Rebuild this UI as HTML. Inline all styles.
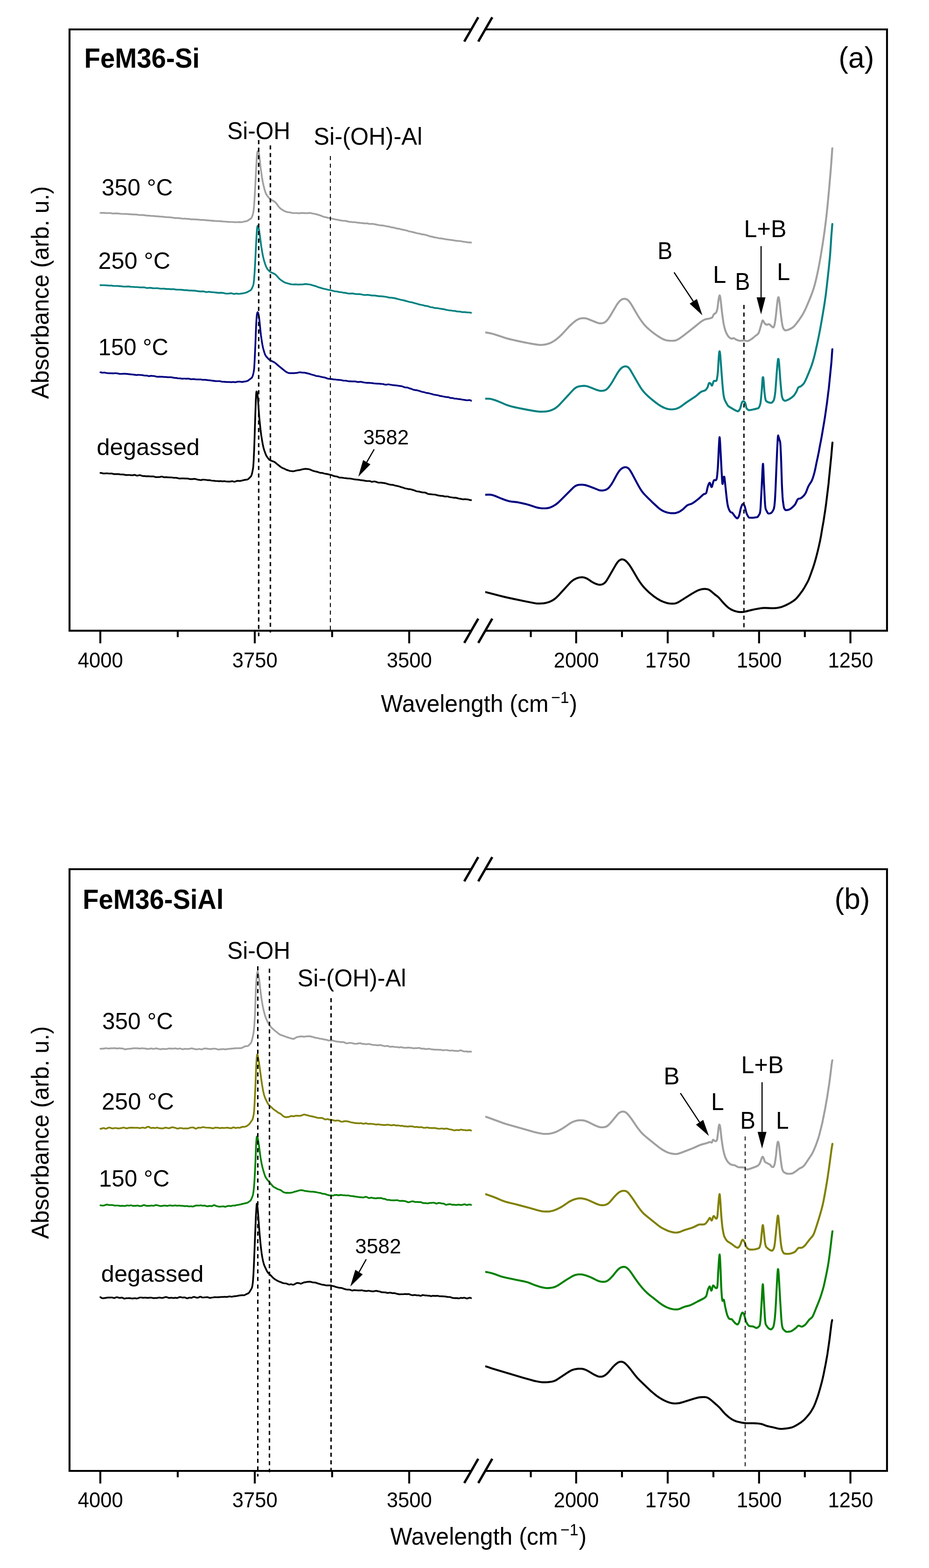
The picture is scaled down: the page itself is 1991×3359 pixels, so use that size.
<!DOCTYPE html>
<html lang="en"><head><meta charset="utf-8"><title>FTIR spectra of FeM36-Si and FeM36-SiAl</title>
<style>html,body{margin:0;padding:0;background:#fff}body{width:1991px;height:3359px;overflow:hidden}svg{display:block}text{font-family:"Liberation Sans", sans-serif;fill:#000}</style>
</head><body>
<svg width="1991" height="3359" viewBox="0 0 1991 3359">
<rect width="1991" height="3359" fill="#fff"/>
<defs><clipPath id="clipL"><rect x="150" y="0" width="861" height="3359"/></clipPath><clipPath id="clipR"><rect x="1040" y="0" width="860" height="3359"/></clipPath></defs>
<g id="panel-a">
<g clip-path="url(#clipL)">
<path d="M215.2,456.0 L218.2,456.2 L223.2,456.2 L227.2,456.3 L231.2,456.5 L235.2,456.3 L236.2,456.4 L239.2,457.0 L242.2,457.3 L244.2,457.4 L248.2,457.1 L250.2,457.1 L252.2,457.3 L259.2,458.0 L272.2,458.4 L283.2,459.4 L287.2,459.4 L292.2,459.7 L298.2,460.5 L300.2,460.7 L306.2,460.7 L308.2,460.9 L313.2,461.7 L317.2,461.8 L323.2,462.4 L331.2,462.9 L335.2,463.3 L338.2,463.4 L342.2,463.8 L347.2,464.1 L353.2,464.9 L357.2,465.2 L362.2,465.4 L368.2,466.0 L375.2,467.1 L376.2,467.2 L380.2,467.2 L384.2,467.4 L386.2,467.6 L390.2,468.3 L392.2,468.5 L393.2,468.5 L397.2,468.4 L401.2,468.8 L404.2,468.9 L408.2,469.6 L410.2,469.9 L414.2,469.9 L419.2,470.2 L424.2,470.4 L426.2,470.6 L430.2,471.1 L436.2,471.2 L440.2,471.6 L449.2,472.3 L461.2,473.3 L468.2,473.7 L473.2,473.8 L477.2,474.3 L480.2,474.5 L484.2,475.0 L487.2,475.1 L491.2,475.4 L494.2,475.5 L498.2,475.5 L502.2,475.9 L504.2,476.0 L508.2,476.0 L512.2,475.7 L515.2,475.9 L517.2,475.9 L518.7,475.8 L520.2,475.5 L524.2,474.5 L527.7,473.9 L529.2,473.4 L530.2,473.0 L531.7,472.1 L535.7,469.4 L537.7,468.1 L538.2,467.7 L538.7,467.1 L539.2,466.3 L540.2,464.2 L541.2,461.4 L542.2,457.9 L543.2,453.3 L543.7,449.5 L544.2,444.4 L544.7,438.3 L545.7,423.5 L546.7,406.3 L549.2,356.0 L550.2,339.5 L550.7,333.0 L551.2,328.3 L551.7,325.4 L552.2,324.0 L552.7,323.6 L553.2,324.2 L553.7,325.0 L554.2,326.1 L554.7,327.7 L555.2,329.9 L555.7,332.9 L556.7,341.4 L558.7,360.9 L561.2,378.2 L563.2,389.9 L564.7,396.9 L566.7,404.8 L567.7,408.4 L568.7,411.5 L570.2,415.3 L571.2,417.1 L574.2,421.3 L576.2,423.7 L578.2,425.8 L579.2,426.6 L580.2,427.3 L585.7,430.3 L587.7,431.5 L589.2,432.7 L590.7,434.1 L591.7,435.2 L593.2,437.1 L597.2,442.7 L598.2,443.9 L599.2,445.0 L602.2,447.5 L605.7,449.9 L608.2,451.4 L610.7,452.6 L613.2,453.5 L616.2,454.4 L617.2,454.5 L621.2,455.0 L625.7,456.0 L627.7,456.3 L636.2,456.5 L641.2,456.8 L643.2,456.7 L648.2,456.2 L650.2,456.3 L653.2,456.7 L659.2,456.6 L663.2,456.1 L664.2,456.2 L665.2,456.3 L669.2,457.3 L675.2,458.3 L681.2,459.9 L683.2,460.5 L689.2,462.6 L693.2,464.2 L695.2,464.8 L699.2,465.6 L703.7,466.8 L713.2,468.7 L717.2,469.7 L723.2,470.7 L727.2,471.6 L733.2,472.7 L735.2,473.0 L738.2,473.0 L740.2,473.1 L747.2,474.9 L749.2,475.2 L752.2,475.4 L756.2,475.8 L761.2,476.0 L762.2,476.2 L766.2,477.0 L769.2,477.2 L773.2,477.7 L778.2,478.1 L781.2,478.6 L782.2,478.6 L785.2,478.4 L786.2,478.4 L787.2,478.6 L790.2,479.3 L792.2,479.6 L794.2,479.6 L797.2,479.6 L799.2,479.7 L803.2,480.4 L813.2,482.5 L814.2,482.6 L818.2,482.8 L822.2,483.3 L824.2,483.7 L827.2,484.5 L829.2,484.9 L833.2,485.4 L834.2,485.6 L837.2,486.6 L838.2,486.8 L842.2,487.4 L844.2,487.7 L851.2,489.6 L856.2,490.2 L860.2,491.4 L871.2,493.7 L873.2,494.3 L876.2,495.4 L877.2,495.7 L880.2,496.2 L882.2,496.6 L885.2,497.4 L890.2,498.6 L894.2,499.7 L899.2,500.6 L903.2,501.8 L908.2,502.4 L912.2,503.2 L917.2,504.8 L921.2,506.2 L922.2,506.4 L926.2,507.1 L930.7,508.4 L932.2,508.7 L935.2,509.0 L940.2,510.3 L944.2,510.7 L949.2,511.4 L951.2,511.7 L955.2,512.6 L959.2,513.0 L963.2,513.7 L967.2,514.1 L972.2,514.8 L976.2,515.6 L981.2,516.1 L985.2,516.3 L987.2,516.5 L992.2,517.7 L995.2,518.0 L1002.2,519.1 L1004.2,519.3 L1006.2,519.4 L1010.8,519.6" fill="none" stroke="#a0a0a0" stroke-width="3.7" stroke-linejoin="round" stroke-linecap="round"/>
<path d="M215.2,610.8 L217.2,610.9 L223.2,611.0 L228.2,611.3 L233.2,611.7 L235.2,611.8 L238.2,611.6 L239.2,611.7 L242.2,612.4 L243.2,612.5 L247.2,612.5 L253.2,612.7 L261.2,613.4 L265.2,614.0 L266.2,614.0 L269.2,613.8 L276.2,613.6 L280.2,614.4 L281.2,614.5 L284.2,614.5 L288.2,614.9 L294.2,615.0 L298.2,615.5 L300.2,615.6 L308.2,615.5 L310.2,615.8 L313.2,616.7 L314.2,616.9 L315.2,617.0 L316.2,617.0 L320.2,616.7 L322.2,616.7 L323.2,616.7 L327.2,617.3 L328.2,617.4 L333.2,617.5 L337.2,617.4 L338.2,617.5 L342.2,618.2 L345.2,618.5 L347.2,618.5 L349.2,618.4 L351.2,618.4 L353.2,618.6 L357.2,619.1 L358.2,619.1 L362.2,619.1 L367.2,619.7 L371.2,619.4 L372.2,619.5 L373.2,619.6 L376.2,620.2 L378.2,620.4 L387.2,620.7 L392.2,621.1 L395.2,621.6 L396.2,621.6 L399.2,621.6 L400.2,621.7 L405.2,622.3 L409.2,622.3 L413.2,622.6 L416.2,622.6 L417.2,622.6 L421.2,623.4 L429.2,624.3 L433.2,624.2 L436.2,624.4 L438.2,624.7 L441.2,625.6 L442.2,625.7 L443.2,625.7 L446.2,625.2 L448.2,625.1 L449.2,625.2 L452.2,625.8 L453.2,626.0 L456.2,626.0 L457.2,626.0 L460.2,626.5 L463.2,626.7 L467.2,627.3 L471.2,627.2 L477.2,627.4 L479.2,627.7 L483.2,628.8 L485.2,629.0 L489.2,629.0 L491.2,628.7 L494.2,628.3 L495.2,628.2 L496.2,628.3 L497.2,628.5 L500.2,629.4 L501.2,629.6 L502.2,629.6 L503.2,629.5 L506.2,628.9 L507.2,628.9 L510.2,629.4 L512.2,629.5 L514.2,629.3 L517.2,628.8 L521.2,628.3 L525.7,627.3 L528.2,626.5 L530.2,625.7 L534.2,623.4 L536.2,622.4 L537.2,621.7 L537.7,621.2 L538.2,620.6 L539.2,619.1 L540.7,616.1 L542.2,612.4 L542.7,611.0 L543.2,609.2 L543.7,606.1 L544.2,601.8 L544.7,596.3 L545.7,582.6 L546.7,566.0 L549.2,515.6 L550.2,499.1 L550.7,492.5 L551.2,487.8 L551.7,484.9 L552.2,483.8 L552.7,483.8 L553.2,484.8 L554.2,487.9 L555.2,492.3 L555.7,495.2 L556.7,502.4 L559.2,522.6 L560.2,529.7 L562.2,541.4 L563.7,549.1 L565.2,555.6 L566.7,560.9 L568.7,567.0 L569.7,569.7 L570.7,572.0 L572.2,574.8 L573.7,576.9 L575.7,579.3 L577.7,581.3 L578.7,582.0 L580.7,583.2 L582.2,584.0 L587.2,586.2 L589.2,587.3 L590.2,588.1 L591.7,589.5 L593.2,591.1 L597.2,595.6 L598.7,597.2 L600.2,598.5 L602.7,600.4 L607.7,603.7 L609.2,604.6 L611.2,605.5 L613.7,606.3 L618.2,607.5 L622.2,608.6 L624.2,609.0 L628.2,609.4 L630.2,609.4 L634.2,609.2 L638.2,609.6 L639.2,609.6 L643.2,609.3 L646.2,609.3 L650.2,609.1 L653.2,608.6 L655.2,608.4 L657.2,608.7 L660.2,609.2 L664.2,609.5 L665.2,609.7 L666.2,609.9 L670.2,611.2 L676.2,612.9 L678.2,613.6 L682.2,615.2 L688.2,616.9 L693.2,618.5 L697.2,619.2 L703.2,620.7 L709.2,621.8 L714.2,623.3 L716.2,623.8 L722.2,624.5 L727.2,625.6 L731.2,626.0 L735.2,626.8 L740.2,627.4 L745.2,628.5 L747.2,628.8 L749.2,628.8 L755.2,628.7 L757.2,628.9 L761.2,629.8 L762.2,629.9 L771.2,630.1 L772.2,630.2 L778.2,631.5 L781.2,631.9 L783.2,632.0 L787.2,631.6 L789.2,631.7 L793.2,632.4 L798.2,633.1 L799.2,633.2 L802.2,633.1 L803.2,633.2 L813.2,634.7 L817.2,634.7 L823.2,635.3 L826.2,635.8 L829.2,636.3 L834.2,637.6 L835.2,637.7 L838.2,637.7 L839.2,637.8 L845.2,638.6 L847.2,639.1 L853.2,640.8 L859.2,642.2 L865.2,643.4 L877.2,646.7 L882.2,647.6 L883.2,647.8 L887.2,649.1 L892.2,650.3 L896.2,651.6 L899.2,652.4 L901.2,652.8 L906.2,653.7 L911.2,655.1 L915.2,655.6 L916.2,655.8 L922.2,657.8 L923.2,658.0 L926.2,658.4 L928.2,658.7 L932.2,659.9 L933.2,660.0 L937.2,660.2 L939.2,660.5 L947.2,661.8 L951.2,662.4 L953.2,662.9 L956.2,663.7 L962.2,664.8 L967.2,665.2 L970.2,665.8 L971.2,666.0 L974.2,666.0 L975.2,666.1 L978.2,666.9 L980.2,667.3 L982.2,667.4 L985.2,667.5 L986.2,667.6 L990.2,668.5 L991.2,668.6 L995.2,668.5 L1000.2,669.1 L1006.2,669.5 L1008.2,669.7 L1010.8,670.3" fill="none" stroke="#008080" stroke-width="3.7" stroke-linejoin="round" stroke-linecap="round"/>
<path d="M215.2,797.5 L216.2,797.6 L219.2,798.4 L220.2,798.5 L223.2,798.2 L224.2,798.2 L228.2,799.0 L231.2,799.3 L236.2,799.6 L239.2,799.6 L243.2,799.8 L246.2,799.5 L248.2,799.5 L253.2,800.2 L256.2,800.9 L257.2,801.0 L258.2,801.0 L266.2,800.7 L267.2,800.7 L273.2,801.1 L279.2,801.8 L282.2,802.2 L287.2,802.6 L289.2,802.9 L291.2,803.3 L292.2,803.4 L293.2,803.4 L296.2,803.0 L297.2,803.0 L304.2,803.5 L305.2,803.6 L308.2,804.3 L314.2,804.6 L316.2,805.0 L318.2,805.6 L319.2,805.8 L320.2,805.7 L323.2,805.1 L324.2,805.0 L325.2,805.1 L327.2,805.3 L330.2,805.5 L331.2,805.7 L334.2,806.6 L337.2,807.1 L339.2,807.1 L342.2,806.9 L345.2,807.1 L348.2,807.2 L352.2,807.7 L355.2,807.5 L356.2,807.6 L359.2,808.1 L360.2,808.2 L363.2,808.0 L365.2,808.1 L368.2,808.4 L373.2,809.4 L377.2,809.6 L378.2,809.7 L381.2,810.4 L383.2,810.5 L386.2,810.6 L390.2,811.3 L391.2,811.3 L394.2,811.0 L395.2,811.0 L399.2,811.4 L403.2,811.1 L404.2,811.2 L405.2,811.3 L408.2,812.2 L409.2,812.4 L410.2,812.4 L411.2,812.4 L414.2,812.0 L415.2,812.1 L419.2,812.7 L425.2,812.8 L429.2,812.8 L430.2,812.8 L433.2,813.5 L434.2,813.6 L440.2,813.7 L442.2,813.9 L445.2,814.3 L449.2,814.7 L452.2,815.1 L454.2,815.3 L458.2,815.9 L461.2,816.3 L463.2,816.4 L470.2,816.5 L471.2,816.6 L472.2,816.8 L475.2,817.6 L476.2,817.7 L480.2,817.9 L486.2,818.4 L488.2,818.4 L491.2,818.3 L495.2,818.6 L496.2,818.6 L499.2,818.3 L500.2,818.3 L503.2,818.7 L504.2,818.8 L505.2,818.7 L508.2,817.9 L509.2,817.7 L511.2,817.6 L514.2,817.7 L517.7,818.2 L519.2,818.2 L520.2,818.1 L523.2,817.4 L526.2,817.1 L527.2,816.9 L530.2,816.0 L531.2,815.6 L532.7,814.6 L538.7,810.1 L539.2,809.7 L540.2,808.3 L541.2,806.3 L542.2,803.2 L543.2,799.1 L544.2,793.6 L544.7,789.0 L545.2,781.8 L545.7,772.8 L547.2,741.0 L548.7,702.5 L549.2,692.0 L549.7,683.9 L550.2,677.7 L550.7,673.5 L551.2,670.9 L551.7,669.2 L552.2,668.7 L552.7,669.3 L553.2,670.5 L553.7,672.1 L554.2,674.0 L554.7,676.5 L555.2,679.7 L556.2,688.1 L558.2,708.7 L559.2,717.9 L560.7,728.4 L562.2,737.5 L563.7,745.1 L564.7,748.9 L566.7,755.6 L567.7,758.5 L568.7,760.8 L569.7,762.5 L572.2,765.5 L575.7,769.2 L577.7,770.9 L579.2,771.9 L580.7,772.8 L587.2,775.8 L589.2,777.0 L591.2,778.6 L596.2,783.0 L610.7,794.8 L612.2,795.9 L613.7,796.9 L616.2,798.2 L617.7,798.7 L619.2,799.1 L621.7,799.3 L624.2,799.4 L627.2,799.3 L630.2,799.3 L635.2,798.9 L637.2,798.6 L641.2,797.7 L642.2,797.5 L644.2,797.6 L647.2,798.1 L652.2,798.3 L655.2,798.9 L662.2,800.6 L667.2,802.3 L673.2,803.8 L677.2,805.3 L678.2,805.5 L682.2,805.8 L686.2,806.7 L690.2,807.7 L695.2,808.6 L698.2,809.5 L702.2,811.0 L704.2,811.4 L708.2,811.6 L714.2,812.6 L719.2,813.0 L723.2,813.7 L727.2,813.9 L729.2,814.0 L733.2,814.7 L736.2,815.4 L737.2,815.5 L740.2,815.5 L742.2,815.7 L746.2,816.5 L748.2,816.8 L751.2,816.9 L755.2,817.2 L761.2,817.2 L762.2,817.3 L766.2,818.2 L768.2,818.3 L770.2,818.2 L772.2,817.8 L773.2,817.8 L774.2,817.9 L777.2,818.8 L779.2,819.1 L781.2,819.5 L786.2,820.1 L787.2,820.1 L790.2,820.0 L791.2,820.1 L794.2,820.5 L797.2,820.7 L802.2,821.5 L805.2,821.6 L808.2,821.8 L812.2,821.8 L816.2,822.4 L819.2,822.5 L821.2,822.8 L824.2,823.7 L826.2,824.0 L827.2,824.1 L828.2,824.0 L831.2,823.5 L832.2,823.4 L833.2,823.5 L843.2,825.2 L850.7,825.8 L852.2,826.0 L855.2,826.7 L859.2,827.1 L861.2,827.5 L863.2,828.1 L867.2,829.7 L868.2,829.9 L869.2,830.0 L872.2,830.1 L873.2,830.3 L874.2,830.6 L877.2,831.9 L881.2,832.9 L885.2,834.6 L886.2,834.9 L888.2,835.3 L894.2,836.2 L898.2,837.3 L903.2,838.9 L905.2,839.5 L909.2,840.3 L913.2,841.5 L917.2,842.1 L919.2,842.5 L922.2,843.3 L925.2,844.0 L929.2,845.2 L938.2,846.8 L943.2,848.1 L946.2,848.6 L949.2,849.3 L955.2,850.4 L960.2,850.8 L962.2,851.3 L965.2,852.4 L966.2,852.6 L967.2,852.7 L969.2,852.7 L970.2,852.8 L971.2,853.0 L974.2,853.9 L975.2,854.0 L978.2,854.1 L979.2,854.2 L982.2,854.8 L986.2,855.1 L990.2,856.0 L993.2,856.3 L997.7,857.1 L1000.2,857.4 L1002.2,857.5 L1005.2,857.1 L1006.2,857.1 L1007.2,857.3 L1010.8,858.7" fill="none" stroke="#000080" stroke-width="3.7" stroke-linejoin="round" stroke-linecap="round"/>
<path d="M215.2,1013.1 L216.2,1013.1 L217.2,1013.2 L218.2,1013.4 L220.2,1014.0 L221.2,1014.2 L222.2,1014.3 L229.2,1014.0 L230.2,1014.0 L233.2,1014.5 L234.2,1014.5 L238.2,1014.4 L240.2,1014.5 L244.2,1015.6 L245.2,1015.7 L248.2,1015.6 L251.2,1015.7 L253.2,1015.6 L254.2,1015.6 L258.2,1016.4 L259.2,1016.5 L262.2,1016.4 L263.2,1016.4 L265.2,1016.7 L270.2,1017.6 L271.2,1017.7 L272.2,1017.7 L275.2,1017.5 L277.2,1017.5 L282.2,1018.1 L283.2,1018.1 L284.2,1018.1 L285.2,1017.9 L287.2,1017.4 L288.2,1017.3 L289.2,1017.4 L290.2,1017.7 L292.2,1018.6 L293.2,1018.9 L294.2,1018.9 L295.2,1018.7 L298.2,1018.0 L299.2,1017.9 L300.2,1018.0 L301.2,1018.3 L304.2,1019.3 L306.2,1019.8 L310.2,1019.9 L313.2,1020.3 L317.2,1020.1 L322.2,1020.6 L328.2,1020.6 L329.2,1020.7 L330.2,1021.0 L333.2,1022.0 L334.2,1022.2 L336.2,1022.2 L342.2,1021.9 L343.2,1021.7 L345.2,1021.1 L346.2,1021.0 L347.2,1021.0 L348.2,1021.3 L350.2,1022.0 L351.2,1022.3 L352.2,1022.4 L356.2,1022.2 L360.2,1022.7 L363.2,1022.7 L369.2,1023.0 L372.2,1023.5 L373.2,1023.6 L376.2,1023.5 L377.2,1023.5 L380.2,1024.1 L383.2,1024.8 L385.2,1025.1 L389.2,1024.9 L392.2,1024.8 L394.2,1024.9 L396.2,1025.2 L397.2,1025.2 L401.2,1025.1 L403.2,1025.3 L406.2,1026.1 L407.2,1026.3 L408.2,1026.4 L411.2,1026.3 L412.2,1026.3 L415.2,1025.9 L417.2,1025.9 L419.2,1026.2 L423.2,1027.4 L427.2,1028.0 L429.2,1028.4 L430.2,1028.5 L431.2,1028.4 L434.2,1027.6 L435.2,1027.5 L436.2,1027.5 L441.2,1028.0 L444.2,1028.5 L445.2,1028.6 L448.2,1028.5 L449.2,1028.6 L452.2,1029.3 L453.2,1029.5 L458.2,1029.8 L461.2,1030.4 L462.2,1030.5 L465.2,1030.5 L469.2,1030.8 L472.2,1030.6 L473.2,1030.7 L476.2,1031.1 L477.2,1031.1 L480.2,1030.8 L481.2,1030.8 L485.2,1031.5 L489.2,1031.6 L491.2,1031.7 L493.2,1031.6 L496.2,1031.0 L497.2,1030.9 L498.2,1030.9 L499.2,1031.2 L501.2,1031.8 L502.2,1032.0 L503.2,1031.9 L504.2,1031.6 L506.2,1030.7 L507.2,1030.4 L508.2,1030.2 L510.2,1030.1 L513.2,1030.4 L514.2,1030.4 L515.2,1030.3 L525.2,1027.9 L527.2,1027.6 L529.7,1027.3 L530.7,1027.0 L532.2,1026.1 L534.2,1024.2 L537.7,1020.6 L538.2,1019.9 L538.7,1018.8 L539.7,1016.0 L540.7,1012.0 L542.2,1003.9 L542.7,1000.0 L543.2,993.7 L543.7,985.2 L544.7,962.7 L545.7,934.2 L547.2,887.4 L548.2,860.1 L548.7,848.9 L549.2,841.5 L549.7,838.7 L550.2,838.9 L550.7,840.4 L551.2,842.2 L551.7,844.8 L552.2,848.4 L552.7,853.5 L553.2,859.8 L554.7,881.6 L555.7,894.5 L557.7,914.4 L558.7,923.3 L559.7,931.2 L561.2,940.9 L563.2,952.1 L564.7,959.0 L565.7,962.6 L566.7,965.6 L569.2,972.5 L570.2,974.8 L571.2,976.8 L572.2,978.5 L574.7,981.8 L576.2,983.7 L577.2,984.7 L578.2,985.5 L579.2,986.1 L581.7,987.1 L586.7,988.9 L588.7,989.9 L590.2,991.0 L595.2,995.3 L601.2,1000.0 L603.2,1001.3 L605.2,1002.4 L606.7,1003.1 L610.2,1004.5 L613.2,1006.2 L614.2,1006.6 L617.2,1007.4 L620.2,1008.5 L622.2,1009.0 L628.2,1009.6 L629.2,1009.5 L630.2,1009.3 L633.2,1008.4 L635.2,1008.0 L638.7,1007.4 L643.2,1006.8 L647.2,1005.6 L650.2,1005.0 L652.2,1004.6 L655.2,1004.4 L660.2,1004.8 L662.2,1005.2 L664.2,1005.8 L669.2,1007.9 L673.2,1009.3 L675.2,1009.8 L677.2,1010.1 L679.2,1010.6 L684.2,1012.3 L686.2,1012.8 L687.2,1012.9 L690.2,1013.1 L691.2,1013.2 L694.2,1014.3 L695.2,1014.5 L703.2,1015.9 L707.2,1017.1 L710.2,1017.7 L711.2,1018.0 L714.2,1019.2 L716.2,1019.9 L718.2,1020.3 L721.2,1020.7 L722.2,1020.9 L723.2,1021.2 L726.2,1022.7 L727.2,1023.0 L728.2,1023.1 L731.2,1023.2 L733.2,1023.3 L737.2,1024.0 L741.2,1024.3 L744.2,1024.9 L745.2,1025.0 L750.2,1025.2 L752.2,1025.5 L759.2,1026.8 L769.2,1027.8 L773.2,1028.7 L776.2,1028.9 L779.2,1029.3 L781.2,1029.6 L784.2,1030.3 L785.2,1030.4 L791.2,1030.5 L792.2,1030.6 L793.2,1030.8 L795.2,1031.6 L796.2,1031.9 L797.2,1032.1 L798.2,1032.0 L801.2,1031.5 L802.2,1031.4 L803.2,1031.5 L806.2,1032.2 L810.2,1033.7 L811.2,1033.9 L812.2,1034.0 L815.2,1033.8 L816.2,1033.9 L825.2,1035.2 L827.2,1035.6 L831.2,1037.0 L833.2,1037.5 L837.2,1038.4 L841.2,1038.6 L842.2,1038.8 L845.2,1039.8 L846.2,1040.1 L849.2,1040.6 L854.2,1041.7 L856.2,1042.3 L860.2,1043.8 L863.2,1044.4 L864.2,1044.8 L866.2,1045.6 L868.2,1046.2 L871.2,1046.8 L875.2,1047.8 L876.2,1047.9 L878.2,1047.9 L879.2,1048.0 L880.2,1048.2 L883.2,1049.1 L887.2,1050.2 L889.2,1050.9 L891.2,1051.9 L892.2,1052.2 L893.2,1052.5 L898.2,1053.1 L904.2,1054.7 L906.2,1054.9 L910.2,1055.1 L911.2,1055.2 L912.2,1055.5 L913.2,1056.0 L916.2,1057.6 L917.2,1058.0 L918.2,1058.3 L919.2,1058.4 L922.2,1058.6 L929.2,1059.5 L932.2,1059.5 L933.2,1059.7 L934.2,1059.9 L937.2,1060.9 L939.2,1061.4 L944.2,1062.1 L948.2,1062.3 L949.2,1062.5 L953.2,1063.6 L954.2,1063.7 L955.2,1063.7 L958.2,1063.5 L959.2,1063.5 L960.2,1063.7 L963.2,1064.7 L964.2,1065.0 L968.2,1065.5 L972.2,1066.2 L973.2,1066.3 L975.2,1066.2 L977.2,1066.4 L979.2,1066.9 L983.2,1068.0 L987.2,1068.6 L991.2,1069.5 L992.2,1069.6 L993.2,1069.6 L996.2,1069.3 L997.2,1069.3 L1003.2,1070.0 L1007.2,1071.1 L1009.2,1071.4 L1010.8,1071.4" fill="none" stroke="#000000" stroke-width="3.7" stroke-linejoin="round" stroke-linecap="round"/>
</g><g clip-path="url(#clipR)">
<path d="M1040.2,712.1 L1043.7,712.6 L1048.2,713.4 L1054.2,714.8 L1059.7,716.2 L1066.7,718.4 L1081.7,723.6 L1085.7,724.8 L1090.7,726.1 L1098.7,728.0 L1108.2,730.1 L1122.2,733.1 L1133.2,735.3 L1140.7,736.6 L1148.7,737.9 L1153.7,738.6 L1157.2,738.9 L1160.2,738.9 L1163.7,738.7 L1167.7,738.1 L1171.7,737.2 L1174.7,736.4 L1177.2,735.6 L1179.7,734.6 L1182.2,733.4 L1184.7,732.0 L1187.7,730.2 L1190.2,728.5 L1193.2,726.2 L1195.7,724.2 L1198.2,722.0 L1202.7,717.8 L1207.2,713.1 L1218.2,701.1 L1222.2,697.1 L1226.2,693.4 L1230.7,689.5 L1234.2,686.8 L1237.2,685.0 L1238.7,684.2 L1240.7,683.3 L1242.2,682.8 L1244.2,682.3 L1245.7,682.0 L1247.7,681.7 L1249.7,681.6 L1252.2,681.6 L1254.2,681.8 L1255.7,682.0 L1258.2,682.7 L1261.7,684.0 L1279.7,691.3 L1282.2,692.1 L1284.2,692.5 L1285.7,692.7 L1287.2,692.7 L1288.7,692.6 L1290.7,692.3 L1292.2,692.0 L1293.7,691.6 L1295.2,691.0 L1296.2,690.4 L1298.2,689.0 L1300.2,687.1 L1302.2,684.8 L1304.7,681.4 L1307.7,676.8 L1310.7,671.9 L1318.7,658.2 L1321.2,654.0 L1323.7,650.3 L1326.2,647.1 L1328.2,644.9 L1329.7,643.6 L1331.2,642.4 L1332.7,641.5 L1334.2,640.8 L1335.7,640.4 L1337.2,640.2 L1338.7,640.1 L1340.2,640.3 L1341.2,640.5 L1342.7,641.1 L1343.7,641.6 L1345.2,642.6 L1346.2,643.4 L1347.2,644.4 L1348.7,646.1 L1350.7,648.7 L1353.2,652.5 L1355.7,656.6 L1362.7,668.8 L1366.7,675.5 L1371.2,682.6 L1375.2,688.4 L1377.2,691.1 L1379.2,693.7 L1381.2,696.0 L1383.2,698.2 L1385.2,700.3 L1387.7,702.7 L1392.7,707.0 L1396.7,710.3 L1401.2,713.8 L1405.7,717.1 L1409.7,719.9 L1413.2,722.1 L1416.7,724.2 L1419.7,725.8 L1422.2,727.0 L1424.7,727.9 L1427.2,728.7 L1429.7,729.2 L1432.2,729.6 L1435.7,729.9 L1439.7,730.0 L1443.2,729.9 L1445.7,729.7 L1447.2,729.4 L1448.7,729.0 L1450.2,728.4 L1451.7,727.7 L1455.2,725.7 L1459.7,722.7 L1466.2,717.9 L1481.2,706.2 L1487.7,701.0 L1501.7,689.7 L1503.2,688.6 L1505.2,687.3 L1508.2,685.6 L1509.7,684.9 L1511.2,684.3 L1513.7,683.6 L1519.7,682.5 L1522.2,681.8 L1523.7,681.3 L1525.2,680.7 L1526.2,680.2 L1526.7,679.7 L1527.2,678.9 L1528.7,675.3 L1529.2,674.3 L1529.7,673.6 L1530.7,672.6 L1533.2,671.1 L1534.2,670.2 L1534.7,669.6 L1535.2,668.7 L1535.7,667.5 L1536.2,666.1 L1537.2,662.3 L1537.7,659.8 L1538.2,656.4 L1539.7,644.1 L1540.7,637.9 L1541.2,635.5 L1541.7,633.8 L1542.2,632.9 L1542.7,633.2 L1543.2,634.7 L1543.7,637.2 L1544.2,640.4 L1545.2,648.8 L1547.2,667.8 L1549.2,682.9 L1550.7,692.6 L1551.7,697.6 L1552.7,701.8 L1554.2,707.0 L1555.7,711.2 L1556.7,713.4 L1559.2,718.1 L1560.7,720.3 L1561.7,721.5 L1563.2,722.9 L1564.2,723.7 L1565.2,724.4 L1566.2,725.0 L1567.2,725.4 L1568.2,725.5 L1569.2,725.3 L1570.7,724.7 L1571.7,724.4 L1572.2,724.4 L1572.7,724.5 L1573.7,724.9 L1576.7,727.0 L1577.7,727.5 L1582.2,729.2 L1584.2,729.7 L1585.7,730.0 L1586.7,730.0 L1588.2,730.0 L1592.7,729.3 L1594.7,729.2 L1596.2,729.4 L1600.2,730.5 L1601.7,730.6 L1602.7,730.5 L1604.2,730.0 L1605.2,729.6 L1606.7,728.8 L1610.7,726.3 L1613.7,724.0 L1620.7,718.2 L1622.7,716.9 L1623.7,716.1 L1624.7,715.0 L1625.2,714.4 L1626.2,712.5 L1626.7,711.4 L1627.7,708.4 L1633.7,687.5 L1634.2,686.6 L1634.7,686.4 L1635.2,686.8 L1635.7,687.4 L1638.2,691.8 L1639.7,693.6 L1641.2,694.9 L1642.2,695.5 L1643.2,695.6 L1644.2,695.4 L1646.2,694.8 L1647.2,694.6 L1648.2,694.6 L1648.7,694.7 L1649.2,694.9 L1650.2,695.7 L1653.2,698.8 L1654.7,700.1 L1656.7,701.3 L1657.2,701.4 L1657.7,701.1 L1658.2,700.5 L1658.7,699.5 L1659.2,698.2 L1659.7,696.6 L1660.2,694.5 L1661.2,688.9 L1662.2,681.7 L1663.2,673.6 L1665.2,654.1 L1666.2,645.5 L1666.7,642.0 L1667.2,639.3 L1667.7,637.4 L1668.2,636.6 L1668.7,636.9 L1669.2,638.2 L1669.7,640.4 L1670.2,643.4 L1671.2,651.3 L1673.7,675.4 L1675.7,690.5 L1676.7,696.3 L1677.2,698.5 L1677.7,700.3 L1678.7,703.2 L1679.2,704.2 L1679.7,705.0 L1681.2,706.5 L1682.2,707.3 L1682.7,707.6 L1683.2,707.8 L1683.7,707.8 L1686.7,707.2 L1689.2,706.5 L1692.7,705.0 L1695.7,703.5 L1697.2,702.6 L1698.7,701.6 L1699.7,700.8 L1701.2,699.5 L1702.7,698.0 L1704.2,696.3 L1707.2,692.5 L1713.2,684.4 L1717.2,678.5 L1720.7,672.8 L1722.7,669.2 L1724.2,666.3 L1726.2,662.1 L1728.2,657.6 L1734.7,642.4 L1737.7,634.9 L1741.2,625.5 L1743.2,619.7 L1745.2,613.2 L1747.2,605.8 L1749.7,595.4 L1752.2,584.1 L1754.7,571.9 L1756.7,561.2 L1759.2,546.8 L1762.7,525.1 L1765.2,508.8 L1767.7,491.0 L1769.7,475.3 L1771.7,458.0 L1773.2,443.7 L1775.2,423.1 L1777.7,396.0 L1780.7,360.5 L1782.2,340.5 L1783.8,317.5" fill="none" stroke="#a0a0a0" stroke-width="4.2" stroke-linejoin="round" stroke-linecap="round"/>
<path d="M1040.2,854.1 L1044.7,854.0 L1047.7,854.1 L1050.7,854.5 L1054.2,855.3 L1060.2,857.1 L1067.2,859.6 L1072.2,861.6 L1083.7,866.6 L1087.2,868.0 L1090.7,869.1 L1096.2,870.7 L1103.2,872.4 L1110.7,874.0 L1122.7,876.4 L1133.2,878.4 L1143.2,880.1 L1149.7,881.1 L1154.2,881.6 L1157.2,881.8 L1160.2,881.8 L1166.7,881.7 L1171.2,881.3 L1175.2,880.6 L1177.7,880.0 L1180.2,879.2 L1183.2,878.0 L1185.7,876.9 L1188.2,875.6 L1190.2,874.4 L1192.2,873.0 L1194.2,871.4 L1197.2,868.7 L1200.7,865.2 L1225.2,838.6 L1229.2,834.4 L1231.7,832.2 L1233.7,830.7 L1235.7,829.5 L1237.7,828.6 L1239.2,828.2 L1241.2,827.7 L1245.7,827.0 L1250.2,826.6 L1252.2,826.6 L1254.2,826.7 L1257.2,827.2 L1260.2,828.0 L1263.2,829.1 L1272.7,832.9 L1278.7,835.2 L1282.2,836.3 L1284.7,836.9 L1286.2,837.1 L1288.2,837.3 L1290.2,837.2 L1292.2,837.0 L1294.2,836.7 L1295.7,836.2 L1297.2,835.7 L1298.7,834.9 L1300.7,833.5 L1302.7,831.6 L1304.7,829.2 L1307.2,825.8 L1310.2,821.3 L1313.2,816.5 L1321.2,802.7 L1323.7,798.6 L1326.2,794.8 L1328.7,791.6 L1330.2,790.0 L1331.7,788.6 L1333.2,787.4 L1334.7,786.5 L1336.2,785.7 L1337.7,785.3 L1339.7,784.9 L1341.2,784.9 L1342.2,785.0 L1343.2,785.2 L1344.2,785.6 L1345.2,786.1 L1346.7,787.2 L1347.7,788.2 L1348.7,789.4 L1350.2,791.5 L1352.2,794.7 L1369.2,824.2 L1372.2,829.1 L1374.7,832.9 L1376.2,835.0 L1378.2,837.6 L1380.2,839.9 L1382.2,842.1 L1384.7,844.7 L1387.2,847.1 L1392.7,852.1 L1397.2,855.9 L1401.7,859.5 L1406.2,863.0 L1410.2,865.9 L1413.7,868.3 L1416.7,870.1 L1419.2,871.5 L1422.2,873.0 L1425.7,874.4 L1428.7,875.4 L1431.7,876.2 L1434.7,876.7 L1437.7,877.0 L1440.7,877.0 L1443.7,876.7 L1446.7,876.2 L1449.7,875.5 L1452.2,874.6 L1454.7,873.5 L1457.2,872.0 L1461.2,869.4 L1470.2,862.8 L1474.2,860.0 L1489.7,849.8 L1492.7,847.5 L1499.2,841.8 L1501.7,839.9 L1502.7,839.3 L1503.7,838.8 L1505.2,838.3 L1509.2,837.1 L1510.7,836.5 L1511.7,835.9 L1512.7,835.0 L1513.7,833.8 L1514.7,832.5 L1516.2,830.2 L1516.7,829.1 L1517.2,827.5 L1518.7,822.4 L1519.2,821.2 L1519.7,820.7 L1520.2,820.4 L1520.7,820.4 L1521.2,820.5 L1522.2,821.0 L1522.7,821.5 L1523.2,822.3 L1524.7,825.2 L1525.2,825.9 L1525.7,826.1 L1526.2,825.7 L1526.7,824.7 L1528.7,818.6 L1529.2,817.4 L1529.7,816.6 L1530.2,816.1 L1530.7,815.8 L1531.2,815.8 L1531.7,815.8 L1533.7,816.3 L1534.2,816.3 L1534.7,816.0 L1535.2,815.6 L1535.7,814.9 L1536.2,813.3 L1536.7,811.0 L1537.2,807.9 L1538.2,799.7 L1538.7,794.5 L1540.2,768.8 L1540.7,762.0 L1541.2,756.6 L1541.7,753.1 L1542.2,752.4 L1542.7,753.9 L1543.2,757.0 L1543.7,761.7 L1546.7,802.2 L1548.7,827.7 L1549.7,838.1 L1550.7,845.8 L1551.2,848.8 L1552.2,853.4 L1552.7,855.1 L1553.7,857.7 L1556.7,863.5 L1558.7,867.1 L1560.2,869.2 L1561.2,870.2 L1561.7,870.6 L1568.7,874.9 L1574.7,878.3 L1577.7,879.8 L1580.7,881.2 L1581.2,881.2 L1581.7,881.1 L1582.2,880.9 L1582.7,880.5 L1583.7,879.4 L1584.7,877.9 L1586.2,875.2 L1586.7,873.8 L1587.2,872.2 L1589.2,864.6 L1589.7,863.2 L1590.2,862.1 L1590.7,861.3 L1591.2,860.6 L1591.7,860.1 L1592.2,859.8 L1592.7,859.6 L1593.2,859.5 L1593.7,859.5 L1594.2,859.7 L1594.7,860.0 L1595.2,860.5 L1596.2,861.8 L1597.2,863.7 L1597.7,865.3 L1599.2,872.0 L1599.7,873.7 L1600.2,874.7 L1601.2,876.0 L1602.2,877.1 L1603.2,877.9 L1604.2,878.5 L1605.2,878.7 L1606.2,878.7 L1612.7,877.5 L1616.7,876.6 L1619.7,875.9 L1624.2,874.7 L1624.7,874.5 L1625.2,874.2 L1625.7,873.8 L1626.2,873.2 L1626.7,872.4 L1627.7,870.5 L1628.2,869.2 L1629.2,866.2 L1629.7,864.2 L1630.2,860.9 L1631.2,851.5 L1632.7,834.8 L1634.2,812.0 L1634.7,808.2 L1635.2,808.2 L1635.7,808.3 L1636.2,812.1 L1636.7,817.2 L1638.2,838.3 L1638.7,842.9 L1639.7,850.4 L1640.2,853.5 L1640.7,856.0 L1641.2,857.8 L1641.7,858.6 L1643.7,860.4 L1645.2,861.3 L1646.7,861.9 L1649.7,862.6 L1652.7,862.9 L1653.2,862.9 L1653.7,862.7 L1654.2,862.4 L1655.2,861.6 L1656.2,860.5 L1657.7,858.5 L1658.2,857.6 L1658.7,856.4 L1659.2,854.7 L1659.7,852.6 L1660.7,846.6 L1661.7,838.2 L1662.2,832.8 L1664.7,798.1 L1666.2,780.2 L1667.2,770.9 L1667.7,768.8 L1668.2,768.8 L1668.7,769.6 L1669.2,773.3 L1670.2,784.2 L1672.7,818.8 L1674.2,835.8 L1675.2,845.2 L1675.7,848.5 L1676.2,850.6 L1677.2,853.7 L1677.7,854.8 L1678.2,855.7 L1678.7,856.4 L1679.2,857.0 L1679.7,857.3 L1681.7,858.4 L1682.2,858.5 L1682.7,858.6 L1684.2,858.2 L1687.2,857.1 L1689.7,856.0 L1692.7,854.3 L1695.7,852.3 L1698.7,849.9 L1700.7,848.1 L1701.7,846.9 L1703.2,844.9 L1706.7,839.3 L1707.7,837.2 L1709.7,832.2 L1710.2,831.3 L1710.7,830.6 L1711.7,829.6 L1712.7,829.0 L1715.7,827.8 L1716.7,827.3 L1717.2,826.9 L1719.7,824.7 L1721.2,823.2 L1722.7,821.4 L1723.7,819.9 L1724.7,818.1 L1726.2,815.1 L1728.7,809.6 L1733.7,797.6 L1737.7,787.4 L1739.7,782.0 L1741.7,775.8 L1743.7,768.9 L1745.7,761.3 L1748.2,750.8 L1751.2,737.3 L1755.2,718.1 L1757.7,705.2 L1760.2,691.3 L1765.2,661.8 L1767.2,649.3 L1769.2,635.7 L1770.7,623.9 L1772.2,610.9 L1776.2,574.7 L1778.2,555.0 L1779.2,543.7 L1779.7,536.7 L1781.7,505.6 L1783.8,479.8" fill="none" stroke="#008080" stroke-width="4.2" stroke-linejoin="round" stroke-linecap="round"/>
<path d="M1040.2,1059.9 L1045.7,1059.6 L1048.7,1059.6 L1052.2,1059.9 L1055.2,1060.5 L1057.7,1061.2 L1060.7,1062.3 L1071.7,1066.9 L1079.7,1070.0 L1084.7,1071.8 L1088.7,1073.0 L1091.7,1073.8 L1094.7,1074.3 L1097.7,1074.7 L1104.7,1075.4 L1108.7,1075.9 L1114.2,1077.0 L1121.7,1078.6 L1127.7,1080.0 L1132.2,1081.2 L1136.2,1082.5 L1146.7,1086.0 L1149.7,1086.9 L1152.7,1087.6 L1155.2,1088.1 L1158.2,1088.5 L1161.2,1088.8 L1164.7,1089.0 L1167.2,1089.0 L1169.7,1088.9 L1172.2,1088.7 L1174.2,1088.4 L1176.2,1087.9 L1178.7,1087.2 L1181.2,1086.2 L1183.7,1085.1 L1186.2,1083.8 L1188.7,1082.3 L1191.2,1080.7 L1193.2,1079.2 L1196.7,1076.3 L1200.7,1072.5 L1212.7,1060.6 L1225.2,1048.0 L1228.7,1044.6 L1230.7,1042.9 L1232.7,1041.4 L1234.7,1040.3 L1236.7,1039.5 L1238.2,1039.1 L1240.2,1038.7 L1242.2,1038.5 L1244.7,1038.4 L1247.2,1038.4 L1249.7,1038.5 L1252.2,1038.8 L1254.2,1039.1 L1257.2,1039.9 L1261.2,1041.3 L1269.2,1044.3 L1282.2,1049.4 L1284.7,1050.2 L1286.7,1050.6 L1288.2,1050.7 L1289.7,1050.8 L1291.7,1050.7 L1293.7,1050.4 L1295.7,1050.0 L1297.2,1049.6 L1298.7,1049.0 L1300.2,1048.3 L1301.7,1047.4 L1302.7,1046.7 L1304.7,1044.9 L1306.7,1042.6 L1309.2,1039.3 L1311.7,1035.5 L1314.2,1031.3 L1321.2,1018.3 L1323.2,1014.8 L1325.7,1010.9 L1326.7,1009.5 L1328.2,1007.7 L1329.7,1006.0 L1331.2,1004.7 L1332.7,1003.5 L1334.7,1002.3 L1336.2,1001.6 L1337.7,1001.2 L1339.7,1000.9 L1341.2,1001.0 L1342.7,1001.2 L1343.7,1001.5 L1345.2,1002.2 L1346.2,1002.9 L1347.2,1003.7 L1348.2,1004.7 L1349.2,1006.0 L1350.2,1007.4 L1352.2,1010.6 L1354.2,1014.1 L1366.7,1037.4 L1370.2,1043.7 L1372.2,1047.1 L1373.7,1049.5 L1375.2,1051.7 L1377.2,1054.4 L1379.2,1056.8 L1381.2,1059.1 L1387.7,1065.8 L1397.7,1075.6 L1407.2,1084.4 L1410.2,1087.1 L1412.7,1089.2 L1415.2,1091.0 L1417.2,1092.4 L1419.7,1093.8 L1422.2,1095.1 L1424.7,1096.2 L1427.2,1097.1 L1429.7,1097.9 L1432.7,1098.5 L1435.7,1099.0 L1438.7,1099.3 L1441.7,1099.4 L1444.7,1099.4 L1447.2,1099.1 L1449.7,1098.6 L1452.2,1097.8 L1454.7,1096.8 L1457.2,1095.5 L1460.2,1093.5 L1462.7,1091.7 L1464.2,1090.5 L1470.7,1084.3 L1472.2,1083.1 L1473.7,1082.1 L1474.7,1081.6 L1476.2,1081.0 L1480.7,1079.7 L1482.2,1079.1 L1483.7,1078.4 L1484.7,1077.8 L1487.7,1075.8 L1490.7,1073.6 L1496.7,1068.8 L1499.7,1066.3 L1507.2,1059.4 L1507.7,1059.0 L1508.7,1058.5 L1510.7,1058.0 L1511.7,1057.6 L1512.7,1056.9 L1513.2,1056.4 L1513.7,1055.5 L1514.2,1054.0 L1514.7,1052.0 L1516.2,1045.1 L1517.2,1041.3 L1518.7,1037.4 L1519.7,1035.5 L1520.2,1034.8 L1520.7,1034.2 L1521.2,1034.1 L1521.7,1034.9 L1522.2,1036.1 L1523.7,1041.2 L1524.2,1042.5 L1524.7,1043.3 L1525.2,1043.4 L1525.7,1042.7 L1526.2,1041.4 L1526.7,1039.8 L1528.7,1032.1 L1529.2,1030.7 L1529.7,1029.6 L1530.2,1028.9 L1530.7,1028.6 L1531.2,1028.4 L1531.7,1028.4 L1533.2,1028.7 L1533.7,1028.7 L1534.2,1028.5 L1534.7,1028.1 L1535.2,1027.5 L1535.7,1026.3 L1536.2,1024.1 L1536.7,1020.7 L1537.2,1016.4 L1538.2,1005.0 L1538.7,997.8 L1540.2,966.2 L1541.2,947.0 L1541.7,939.1 L1542.2,936.5 L1542.7,939.4 L1543.2,946.5 L1547.2,1022.4 L1547.7,1030.7 L1548.2,1036.2 L1548.7,1036.9 L1549.2,1034.1 L1550.2,1025.0 L1550.7,1022.9 L1551.2,1021.4 L1552.2,1021.4 L1552.7,1023.0 L1556.7,1060.7 L1557.7,1069.6 L1558.7,1077.1 L1559.7,1082.8 L1560.7,1086.9 L1561.7,1089.8 L1562.7,1092.2 L1564.2,1095.0 L1565.2,1096.3 L1565.7,1096.8 L1566.2,1097.2 L1566.7,1097.4 L1568.7,1098.0 L1569.2,1098.3 L1569.7,1098.8 L1571.2,1100.7 L1574.7,1105.7 L1576.7,1108.0 L1578.2,1109.4 L1579.2,1110.2 L1579.7,1110.4 L1580.2,1110.4 L1580.7,1110.1 L1581.2,1109.8 L1581.7,1109.2 L1582.2,1108.5 L1583.2,1106.6 L1584.2,1104.1 L1585.2,1100.3 L1586.7,1093.1 L1587.7,1088.8 L1589.2,1084.4 L1590.2,1082.1 L1591.2,1080.4 L1591.7,1079.9 L1592.2,1079.6 L1592.7,1079.6 L1593.2,1079.7 L1593.7,1080.1 L1594.2,1080.7 L1594.7,1081.5 L1595.7,1083.7 L1596.2,1085.0 L1596.7,1086.6 L1598.7,1095.1 L1599.7,1098.8 L1600.7,1101.3 L1602.2,1104.5 L1603.7,1107.0 L1604.7,1108.2 L1605.2,1108.6 L1605.7,1108.9 L1606.2,1109.0 L1610.7,1109.1 L1613.2,1109.1 L1615.7,1108.9 L1622.2,1108.0 L1622.7,1107.9 L1623.2,1107.7 L1624.2,1106.8 L1625.7,1104.7 L1627.7,1101.4 L1628.2,1100.4 L1628.7,1098.7 L1629.2,1095.8 L1629.7,1091.4 L1630.2,1085.0 L1632.7,1037.3 L1634.2,1004.6 L1634.7,996.9 L1635.2,993.6 L1635.7,997.8 L1636.2,1008.3 L1637.2,1034.9 L1639.2,1073.1 L1639.7,1080.4 L1640.2,1085.5 L1640.7,1088.9 L1641.2,1091.0 L1641.7,1092.3 L1642.7,1094.0 L1644.2,1097.0 L1645.2,1098.6 L1645.7,1099.3 L1646.2,1099.7 L1646.7,1099.9 L1647.7,1100.1 L1649.2,1100.0 L1650.7,1099.7 L1652.7,1098.9 L1653.2,1098.6 L1654.2,1097.6 L1655.7,1095.4 L1657.7,1091.8 L1658.2,1090.6 L1658.7,1088.9 L1659.2,1086.5 L1659.7,1083.1 L1660.2,1078.6 L1660.7,1072.9 L1661.2,1065.5 L1662.2,1045.3 L1664.7,983.0 L1665.7,960.5 L1666.7,941.8 L1667.2,935.1 L1667.7,932.9 L1670.2,941.1 L1671.7,945.6 L1672.2,948.2 L1672.7,954.8 L1673.7,975.9 L1674.2,988.6 L1675.7,1036.5 L1676.2,1047.6 L1677.2,1064.9 L1677.7,1070.9 L1678.2,1075.1 L1679.2,1082.2 L1679.7,1085.2 L1680.2,1087.6 L1680.7,1089.2 L1681.7,1090.7 L1682.7,1091.9 L1683.2,1092.4 L1683.7,1092.7 L1684.2,1092.9 L1684.7,1092.9 L1688.7,1092.3 L1690.2,1091.9 L1691.2,1091.6 L1692.2,1091.1 L1693.7,1090.2 L1695.2,1089.2 L1697.2,1087.6 L1700.2,1084.9 L1701.7,1083.3 L1703.7,1081.0 L1704.2,1080.3 L1705.2,1078.5 L1708.2,1072.0 L1709.2,1070.2 L1709.7,1069.6 L1710.7,1068.8 L1711.7,1068.3 L1712.7,1068.1 L1715.2,1067.7 L1716.2,1067.3 L1716.7,1067.0 L1719.7,1064.6 L1721.7,1062.8 L1723.7,1060.5 L1725.2,1058.5 L1726.7,1056.0 L1727.7,1053.9 L1731.2,1044.7 L1732.7,1041.3 L1734.2,1038.7 L1738.2,1032.7 L1739.2,1030.8 L1740.2,1028.7 L1741.2,1026.2 L1742.7,1021.9 L1743.7,1018.6 L1745.2,1013.2 L1746.2,1009.2 L1747.2,1004.8 L1749.7,992.4 L1753.2,976.2 L1755.2,966.1 L1757.2,954.8 L1759.2,945.0 L1761.2,934.0 L1766.7,901.6 L1768.2,892.0 L1772.2,864.3 L1774.7,843.9 L1776.2,832.4 L1781.7,777.5 L1782.2,771.1 L1783.2,756.0 L1783.9,748.0" fill="none" stroke="#000080" stroke-width="4.2" stroke-linejoin="round" stroke-linecap="round"/>
<path d="M1040.2,1268.4 L1042.2,1268.8 L1044.2,1269.2 L1071.2,1276.3 L1079.7,1278.4 L1087.2,1280.1 L1100.2,1282.9 L1124.7,1288.0 L1145.2,1292.0 L1148.2,1292.5 L1151.2,1292.8 L1153.7,1292.9 L1156.7,1292.9 L1160.7,1292.7 L1165.2,1292.3 L1168.2,1291.9 L1171.2,1291.3 L1173.7,1290.6 L1175.7,1289.9 L1178.2,1289.0 L1180.7,1287.9 L1183.2,1286.6 L1185.7,1285.2 L1187.7,1283.8 L1189.7,1282.4 L1191.2,1281.1 L1193.2,1279.3 L1196.7,1275.8 L1219.2,1251.1 L1221.7,1248.5 L1224.2,1246.1 L1225.7,1244.8 L1227.2,1243.6 L1230.2,1241.7 L1232.2,1240.6 L1234.2,1239.6 L1236.2,1238.8 L1238.2,1238.1 L1240.2,1237.5 L1242.2,1237.0 L1244.2,1236.8 L1246.2,1236.7 L1248.2,1236.7 L1250.2,1236.9 L1252.2,1237.3 L1253.7,1237.7 L1256.2,1238.7 L1259.2,1240.2 L1261.7,1241.8 L1268.2,1246.2 L1272.2,1248.5 L1274.7,1249.7 L1277.2,1250.7 L1279.7,1251.6 L1281.7,1252.2 L1283.2,1252.5 L1284.7,1252.6 L1286.2,1252.6 L1287.7,1252.5 L1289.2,1252.2 L1290.7,1251.8 L1292.2,1251.2 L1293.2,1250.6 L1295.2,1249.3 L1296.7,1247.9 L1298.7,1245.6 L1300.7,1242.7 L1304.2,1236.9 L1318.7,1211.7 L1321.2,1207.7 L1323.2,1204.8 L1324.7,1203.0 L1325.7,1202.0 L1326.7,1201.1 L1328.2,1200.0 L1329.7,1199.1 L1331.2,1198.6 L1332.2,1198.4 L1333.7,1198.3 L1335.2,1198.5 L1336.7,1198.9 L1338.2,1199.6 L1340.2,1200.8 L1341.7,1202.1 L1343.2,1203.5 L1344.7,1205.1 L1346.7,1207.5 L1349.7,1211.5 L1353.2,1216.8 L1356.2,1221.8 L1365.2,1237.3 L1368.7,1242.9 L1371.7,1247.4 L1374.7,1251.6 L1378.2,1256.0 L1381.7,1259.9 L1385.2,1263.5 L1390.2,1268.3 L1396.2,1273.4 L1401.7,1277.8 L1406.7,1281.3 L1409.2,1282.9 L1412.2,1284.6 L1415.2,1286.3 L1417.7,1287.5 L1420.2,1288.6 L1422.7,1289.6 L1425.2,1290.5 L1427.7,1291.3 L1430.7,1292.1 L1433.7,1292.7 L1436.2,1293.0 L1439.2,1293.2 L1442.2,1293.1 L1445.2,1292.9 L1447.7,1292.5 L1449.7,1291.9 L1452.2,1290.9 L1455.2,1289.2 L1482.2,1272.3 L1489.2,1268.2 L1493.7,1265.8 L1496.2,1264.6 L1498.2,1263.9 L1500.2,1263.2 L1502.7,1262.5 L1504.7,1262.1 L1506.7,1261.8 L1508.7,1261.7 L1511.2,1261.7 L1513.2,1261.8 L1514.7,1262.0 L1516.2,1262.3 L1517.7,1262.7 L1519.2,1263.4 L1520.7,1264.2 L1522.2,1265.2 L1523.7,1266.3 L1530.7,1272.4 L1532.7,1274.0 L1537.2,1277.3 L1539.7,1279.5 L1542.7,1282.6 L1549.7,1290.8 L1553.7,1295.1 L1556.2,1297.6 L1558.2,1299.4 L1560.7,1301.5 L1562.7,1303.0 L1564.7,1304.3 L1566.7,1305.5 L1568.7,1306.5 L1570.7,1307.4 L1572.7,1308.2 L1575.2,1309.1 L1577.7,1309.8 L1580.2,1310.4 L1583.7,1311.0 L1586.7,1311.2 L1589.7,1311.2 L1593.2,1310.9 L1595.7,1310.4 L1598.2,1309.9 L1610.2,1306.9 L1617.7,1305.2 L1626.7,1303.6 L1630.7,1303.0 L1633.7,1302.7 L1637.2,1302.4 L1641.2,1302.3 L1653.2,1302.8 L1657.2,1302.8 L1661.2,1302.7 L1665.2,1302.3 L1669.2,1301.6 L1673.2,1300.7 L1677.2,1299.4 L1681.2,1297.8 L1687.2,1295.0 L1693.2,1291.8 L1696.2,1290.0 L1699.7,1287.7 L1701.7,1286.3 L1703.7,1284.8 L1705.2,1283.5 L1706.7,1282.0 L1709.7,1278.6 L1715.2,1271.6 L1719.7,1265.5 L1722.2,1261.7 L1724.7,1257.5 L1731.2,1245.7 L1733.2,1241.6 L1735.7,1235.1 L1742.2,1217.0 L1744.2,1210.9 L1746.2,1204.3 L1749.2,1193.6 L1752.2,1181.9 L1755.2,1169.2 L1757.7,1157.7 L1759.7,1147.1 L1762.2,1132.0 L1764.7,1118.2 L1768.7,1092.1 L1770.7,1077.4 L1775.7,1036.3 L1776.7,1025.6 L1781.7,975.6 L1782.7,963.5 L1784.1,948.0" fill="none" stroke="#000000" stroke-width="4.2" stroke-linejoin="round" stroke-linecap="round"/>
</g>
<line x1="554.4" y1="300.1" x2="554.4" y2="1363.0" stroke="#000" stroke-width="3.2" stroke-linecap="butt" stroke-dasharray="8.8 7.43"/>
<line x1="579.5" y1="311.4" x2="579.5" y2="1355.0" stroke="#000" stroke-width="3.2" stroke-linecap="butt" stroke-dasharray="8.8 7.43"/>
<line x1="708.0" y1="334.2" x2="708.0" y2="1349.0" stroke="#000" stroke-width="2.0" stroke-linecap="butt" stroke-dasharray="8.8 7.43"/>
<line x1="1594.4" y1="653.2" x2="1594.4" y2="1346.0" stroke="#000" stroke-width="2.8" stroke-linecap="butt" stroke-dasharray="8.8 7.43"/>
<path d="M1010.0,63.0 H149.0 V1351.2 H1010.0" fill="none" stroke="#000" stroke-width="4.2" stroke-linejoin="miter"/>
<path d="M1040.0,63.0 H1901.0 V1351.2 H1040.0" fill="none" stroke="#000" stroke-width="4.2" stroke-linejoin="miter"/>
<line x1="995.0" y1="89.0" x2="1025.0" y2="37.0" stroke="#000" stroke-width="5.0" stroke-linecap="butt"/>
<line x1="1025.0" y1="89.0" x2="1055.0" y2="37.0" stroke="#000" stroke-width="5.0" stroke-linecap="butt"/>
<line x1="995.0" y1="1377.2" x2="1025.0" y2="1325.2" stroke="#000" stroke-width="5.0" stroke-linecap="butt"/>
<line x1="1025.0" y1="1377.2" x2="1055.0" y2="1325.2" stroke="#000" stroke-width="5.0" stroke-linecap="butt"/>
<line x1="215.0" y1="1351.2" x2="215.0" y2="1378.2" stroke="#000" stroke-width="4.2" stroke-linecap="butt"/>
<line x1="546.0" y1="1351.2" x2="546.0" y2="1378.2" stroke="#000" stroke-width="4.2" stroke-linecap="butt"/>
<line x1="877.0" y1="1351.2" x2="877.0" y2="1378.2" stroke="#000" stroke-width="4.2" stroke-linecap="butt"/>
<line x1="1234.8" y1="1351.2" x2="1234.8" y2="1378.2" stroke="#000" stroke-width="4.2" stroke-linecap="butt"/>
<line x1="1431.0" y1="1351.2" x2="1431.0" y2="1378.2" stroke="#000" stroke-width="4.2" stroke-linecap="butt"/>
<line x1="1626.8" y1="1351.2" x2="1626.8" y2="1378.2" stroke="#000" stroke-width="4.2" stroke-linecap="butt"/>
<line x1="1822.6" y1="1351.2" x2="1822.6" y2="1378.2" stroke="#000" stroke-width="4.2" stroke-linecap="butt"/>
<line x1="380.9" y1="1351.2" x2="380.9" y2="1364.8" stroke="#000" stroke-width="4.2" stroke-linecap="butt"/>
<line x1="711.8" y1="1351.2" x2="711.8" y2="1364.8" stroke="#000" stroke-width="4.2" stroke-linecap="butt"/>
<line x1="1137.6" y1="1351.2" x2="1137.6" y2="1364.8" stroke="#000" stroke-width="4.2" stroke-linecap="butt"/>
<line x1="1333.0" y1="1351.2" x2="1333.0" y2="1364.8" stroke="#000" stroke-width="4.2" stroke-linecap="butt"/>
<line x1="1528.9" y1="1351.2" x2="1528.9" y2="1364.8" stroke="#000" stroke-width="4.2" stroke-linecap="butt"/>
<line x1="1724.9" y1="1351.2" x2="1724.9" y2="1364.8" stroke="#000" stroke-width="4.2" stroke-linecap="butt"/>
<text transform="translate(215.3,1429.7) scale(0.990,1.030)" font-size="44" text-anchor="middle">4000</text>
<text transform="translate(546.3,1429.7) scale(0.990,1.030)" font-size="44" text-anchor="middle">3750</text>
<text transform="translate(877.3,1429.7) scale(0.990,1.030)" font-size="44" text-anchor="middle">3500</text>
<text transform="translate(1235.1,1429.7) scale(0.990,1.030)" font-size="44" text-anchor="middle">2000</text>
<text transform="translate(1431.3,1429.7) scale(0.990,1.030)" font-size="44" text-anchor="middle">1750</text>
<text transform="translate(1627.1,1429.7) scale(0.990,1.030)" font-size="44" text-anchor="middle">1500</text>
<text transform="translate(1822.9,1429.7) scale(0.990,1.030)" font-size="44" text-anchor="middle">1250</text>
<text transform="translate(816.3,1525.1) scale(1,1.03)" font-size="50">Wavelength (cm<tspan x="364.6" y="-19" font-size="34">−1</tspan><tspan x="404.3" y="0">)</tspan></text>
<text transform="translate(103.8,626.7) rotate(-90) scale(1,1.03)" font-size="50" text-anchor="middle">Absorbance (arb. u.)</text>
<text transform="translate(180.5,145.2) scale(1.007,1.050)" font-size="56" font-weight="bold">FeM36-Si</text>
<text transform="translate(1797.3,145.3) scale(1.004,1.030)" font-size="62">(a)</text>
<text transform="translate(487.0,298.3) scale(0.994,1.030)" font-size="50">Si-OH</text>
<text transform="translate(672.2,310.1) scale(1.011,1.030)" font-size="50">Si-(OH)-Al</text>
<text transform="translate(217.8,418.5) scale(0.995,1.005)" font-size="50">350 °C</text>
<text transform="translate(210.6,576.2) scale(1.007,1.005)" font-size="50">250 °C</text>
<text transform="translate(210.7,761.3) scale(0.979,1.005)" font-size="50">150 °C</text>
<text transform="translate(207.2,975.4) scale(1.018,1.005)" font-size="50">degassed</text>
<text transform="translate(778.4,951.7) scale(0.999,1.005)" font-size="44">3582</text>
<text transform="translate(1409.3,554.7) scale(0.958,1.030)" font-size="50">B</text>
<text transform="translate(1528.0,605.8) scale(1.018,1.030)" font-size="50">L</text>
<text transform="translate(1575.3,620.8) scale(0.969,1.030)" font-size="50">B</text>
<text transform="translate(1594.6,507.8) scale(1.006,1.030)" font-size="50">L+B</text>
<text transform="translate(1665.1,599.9) scale(1.018,1.030)" font-size="50">L</text>
<line x1="801.9" y1="962.7" x2="786.0" y2="990.1" stroke="#000" stroke-width="2.5" stroke-linecap="butt"/>
<polygon points="767.9,1021.2 778.2,985.4 793.8,994.8" fill="#000"/>
<line x1="1444.7" y1="583.5" x2="1485.8" y2="645.5" stroke="#000" stroke-width="2.5" stroke-linecap="butt"/>
<polygon points="1505.3,675.4 1478.1,650.5 1493.6,640.4" fill="#000"/>
<line x1="1631.1" y1="527.2" x2="1631.1" y2="637.0" stroke="#000" stroke-width="2.5" stroke-linecap="butt"/>
<polygon points="1631.1,673.4 1621.6,637.0 1640.6,637.0" fill="#000"/>
</g>
<g id="panel-b">
<g clip-path="url(#clipL)">
<path d="M215.2,2246.6 L219.2,2246.7 L223.2,2246.1 L226.2,2245.6 L227.2,2245.5 L228.2,2245.5 L232.2,2246.2 L233.2,2246.2 L234.2,2246.2 L237.2,2245.6 L238.2,2245.5 L242.2,2245.7 L245.2,2245.4 L246.2,2245.4 L250.2,2246.1 L251.2,2246.1 L254.2,2245.7 L256.2,2245.6 L257.2,2245.7 L260.2,2246.1 L263.2,2246.2 L264.2,2246.4 L267.2,2247.7 L268.2,2247.9 L269.2,2247.9 L272.2,2247.1 L273.2,2247.0 L281.2,2246.4 L285.2,2245.7 L286.2,2245.6 L289.2,2245.7 L292.2,2245.6 L294.2,2245.6 L296.2,2245.8 L299.2,2246.2 L300.2,2246.3 L301.2,2246.1 L303.2,2245.7 L304.2,2245.5 L305.2,2245.6 L307.2,2245.8 L310.2,2246.0 L311.2,2246.1 L314.2,2246.9 L315.2,2247.0 L316.2,2247.1 L319.2,2246.8 L323.2,2246.2 L324.2,2246.1 L325.2,2246.2 L328.2,2246.9 L329.2,2247.0 L330.2,2246.8 L333.2,2246.1 L334.2,2245.9 L335.2,2245.9 L336.2,2246.1 L341.2,2247.3 L343.2,2247.6 L344.2,2247.7 L345.2,2247.7 L348.2,2247.0 L349.2,2246.9 L350.2,2246.9 L352.2,2247.2 L353.2,2247.3 L357.2,2247.1 L361.2,2246.2 L362.2,2246.2 L365.2,2246.3 L367.2,2246.2 L371.2,2246.5 L372.2,2246.4 L374.2,2246.0 L375.2,2245.9 L376.2,2245.9 L377.2,2246.1 L379.2,2246.7 L380.2,2246.8 L381.2,2246.9 L382.2,2246.7 L384.2,2246.2 L385.2,2246.1 L386.2,2246.2 L387.2,2246.4 L390.2,2247.4 L391.2,2247.6 L392.2,2247.6 L393.2,2247.5 L396.2,2246.9 L397.2,2246.8 L400.2,2247.0 L404.2,2247.1 L405.2,2246.9 L408.2,2246.2 L409.2,2246.0 L410.2,2245.9 L411.2,2245.9 L412.2,2246.1 L415.2,2246.8 L417.2,2247.1 L420.2,2247.9 L421.2,2248.0 L422.2,2248.0 L423.2,2247.8 L425.2,2247.2 L426.2,2247.0 L427.2,2247.0 L428.2,2247.2 L430.2,2247.8 L431.2,2248.0 L432.2,2248.0 L433.2,2247.8 L436.2,2246.6 L437.2,2246.4 L438.2,2246.2 L439.2,2246.1 L443.2,2246.4 L446.2,2246.9 L451.2,2247.4 L452.2,2247.4 L455.2,2246.8 L456.2,2246.7 L459.2,2246.5 L461.2,2246.5 L463.2,2246.9 L467.2,2248.2 L468.2,2248.3 L469.2,2248.3 L472.2,2247.8 L477.2,2247.3 L478.2,2247.3 L479.2,2247.4 L482.2,2247.8 L483.7,2247.8 L488.2,2247.1 L491.2,2247.0 L492.2,2246.9 L495.2,2246.4 L496.2,2246.3 L499.2,2246.2 L504.2,2245.7 L513.2,2245.3 L516.2,2245.3 L517.2,2245.2 L518.2,2244.9 L519.2,2244.5 L522.2,2242.8 L524.2,2241.9 L526.2,2241.4 L527.2,2241.1 L528.2,2241.0 L530.2,2241.0 L531.2,2240.7 L532.2,2240.0 L532.7,2239.6 L534.7,2237.6 L537.7,2234.2 L538.2,2233.3 L538.7,2232.2 L539.7,2229.2 L541.2,2223.2 L543.2,2214.0 L543.7,2210.6 L544.7,2200.7 L545.2,2194.2 L546.2,2178.7 L546.7,2168.3 L547.7,2135.0 L548.2,2121.3 L549.2,2103.3 L549.7,2096.3 L550.2,2090.8 L550.7,2086.8 L551.2,2083.6 L551.7,2081.6 L552.2,2081.3 L552.7,2082.5 L553.2,2084.1 L553.7,2086.2 L554.7,2092.0 L555.7,2100.1 L557.7,2118.7 L558.7,2127.1 L560.7,2140.9 L562.2,2150.3 L563.7,2158.4 L565.2,2165.0 L567.2,2172.8 L568.2,2176.1 L569.2,2179.1 L570.7,2182.8 L572.7,2187.4 L574.2,2190.6 L575.2,2192.5 L576.2,2194.1 L577.2,2195.6 L581.2,2200.6 L583.2,2202.7 L587.7,2206.7 L590.2,2208.8 L593.2,2211.1 L597.2,2214.4 L598.2,2215.2 L599.7,2216.1 L600.7,2216.7 L602.2,2217.3 L608.2,2219.2 L614.2,2221.6 L617.2,2222.4 L620.2,2223.5 L626.2,2225.1 L629.2,2225.6 L629.7,2225.5 L631.2,2224.8 L634.2,2222.8 L635.2,2222.2 L636.2,2221.8 L642.2,2220.6 L644.2,2220.3 L646.2,2220.2 L648.2,2220.4 L651.2,2220.9 L652.2,2220.9 L653.2,2220.7 L655.2,2220.2 L656.2,2220.1 L659.2,2220.1 L661.7,2219.8 L663.2,2219.8 L665.2,2220.1 L669.2,2221.1 L674.2,2222.6 L677.2,2223.4 L680.2,2223.6 L681.2,2223.8 L684.2,2224.8 L685.2,2225.0 L690.2,2225.6 L692.2,2226.0 L695.2,2226.9 L696.2,2227.1 L699.2,2227.3 L700.2,2227.6 L703.2,2228.8 L704.2,2229.0 L705.2,2229.0 L709.2,2228.8 L711.2,2228.8 L713.2,2229.1 L717.2,2230.4 L722.2,2231.3 L726.2,2231.6 L729.2,2232.3 L730.2,2232.3 L733.2,2232.2 L736.2,2232.5 L737.2,2232.8 L738.2,2233.2 L741.2,2234.7 L742.2,2235.0 L743.2,2235.0 L749.2,2234.1 L750.2,2234.0 L751.2,2234.0 L755.2,2234.7 L758.2,2235.6 L759.2,2235.8 L764.2,2236.0 L765.2,2235.9 L768.2,2235.1 L769.2,2235.0 L770.2,2234.9 L772.2,2234.9 L773.2,2235.1 L774.2,2235.3 L776.2,2236.0 L777.2,2236.2 L780.2,2236.4 L784.2,2237.0 L785.2,2237.0 L786.2,2236.9 L788.2,2236.5 L789.2,2236.4 L790.2,2236.4 L792.2,2236.8 L798.2,2238.3 L800.2,2238.5 L803.2,2238.6 L805.2,2238.7 L809.2,2239.4 L810.2,2239.4 L813.2,2238.8 L814.2,2238.7 L815.2,2238.8 L816.2,2238.9 L819.2,2239.8 L822.2,2240.5 L824.2,2241.1 L825.2,2241.2 L826.2,2241.2 L828.2,2240.7 L829.2,2240.5 L830.2,2240.6 L831.2,2240.8 L834.2,2242.0 L835.2,2242.3 L836.2,2242.5 L837.2,2242.4 L840.2,2242.1 L842.2,2242.1 L843.2,2242.2 L846.2,2242.9 L847.2,2243.0 L851.2,2243.0 L852.2,2243.2 L854.2,2243.7 L855.2,2243.9 L856.2,2243.8 L858.2,2243.4 L859.2,2243.2 L860.2,2243.3 L861.2,2243.5 L863.2,2244.1 L864.2,2244.4 L865.2,2244.5 L871.2,2244.7 L874.2,2244.1 L875.2,2244.1 L878.2,2244.6 L881.2,2244.7 L882.2,2244.9 L885.2,2245.5 L886.2,2245.6 L887.2,2245.6 L890.2,2245.3 L894.2,2245.3 L897.2,2244.9 L898.2,2244.9 L899.2,2245.0 L900.2,2245.3 L902.2,2246.2 L903.2,2246.4 L904.2,2246.6 L907.2,2246.4 L908.2,2246.4 L909.2,2246.6 L912.2,2247.4 L913.2,2247.5 L914.2,2247.4 L915.2,2247.3 L917.2,2246.8 L918.2,2246.7 L919.2,2246.8 L925.2,2247.9 L928.2,2248.1 L931.2,2248.6 L932.2,2248.6 L935.2,2248.5 L941.2,2248.9 L944.2,2248.9 L945.2,2249.0 L946.2,2249.2 L948.2,2249.8 L949.2,2249.9 L950.2,2249.9 L953.2,2249.5 L955.2,2249.5 L957.2,2249.5 L959.2,2249.8 L962.2,2250.5 L963.2,2250.7 L964.2,2250.7 L967.2,2250.5 L970.2,2250.5 L971.2,2250.6 L974.2,2251.2 L977.2,2251.2 L981.2,2251.6 L982.2,2251.5 L983.2,2251.3 L985.2,2250.4 L986.2,2250.1 L987.2,2250.0 L988.2,2250.2 L989.2,2250.4 L992.2,2251.7 L993.2,2252.1 L994.2,2252.4 L995.2,2252.5 L996.2,2252.5 L998.2,2252.3 L999.2,2252.3 L1000.2,2252.4 L1003.2,2253.1 L1004.2,2253.1 L1007.2,2252.7 L1008.2,2252.7 L1009.2,2252.8 L1010.8,2253.3" fill="none" stroke="#a0a0a0" stroke-width="3.7" stroke-linejoin="round" stroke-linecap="round"/>
<path d="M215.2,2417.9 L216.2,2418.1 L217.2,2418.0 L218.2,2417.7 L220.2,2416.8 L221.2,2416.5 L222.2,2416.5 L223.2,2416.8 L225.2,2417.7 L226.2,2418.0 L227.2,2418.0 L228.2,2417.7 L231.2,2416.3 L232.2,2415.9 L233.2,2415.6 L234.2,2415.5 L235.2,2415.6 L236.2,2415.9 L238.2,2416.8 L239.2,2417.1 L240.2,2417.2 L241.2,2417.3 L243.2,2417.1 L246.2,2416.5 L247.2,2416.5 L248.2,2416.5 L253.2,2417.3 L255.2,2417.3 L256.2,2417.2 L258.2,2416.8 L261.2,2416.4 L264.2,2415.5 L265.2,2415.5 L266.2,2415.7 L269.2,2416.8 L270.2,2417.0 L271.2,2417.1 L272.2,2417.1 L276.2,2416.0 L278.2,2415.8 L280.2,2415.7 L286.2,2415.8 L289.2,2416.0 L294.2,2415.9 L295.2,2416.0 L299.2,2416.6 L300.2,2416.6 L301.2,2416.6 L302.2,2416.3 L304.2,2415.7 L305.2,2415.5 L306.2,2415.5 L307.2,2415.7 L309.2,2416.3 L310.2,2416.5 L311.2,2416.4 L312.2,2416.1 L315.2,2414.4 L316.2,2414.0 L317.2,2413.8 L318.2,2413.8 L319.2,2414.0 L320.2,2414.5 L322.2,2415.9 L323.2,2416.4 L324.2,2416.5 L325.2,2416.4 L327.2,2416.0 L328.2,2415.9 L329.2,2416.1 L331.2,2416.5 L332.2,2416.6 L333.2,2416.5 L335.2,2415.8 L336.2,2415.6 L337.2,2415.6 L338.2,2415.9 L340.2,2416.5 L341.2,2416.8 L342.2,2416.9 L345.2,2417.1 L348.2,2417.3 L349.2,2417.3 L350.2,2417.1 L353.2,2416.1 L354.2,2415.8 L355.2,2415.7 L356.2,2415.8 L357.2,2416.0 L359.2,2416.5 L361.2,2416.8 L362.2,2416.9 L363.2,2416.8 L364.2,2416.5 L367.2,2415.2 L368.2,2415.0 L369.2,2414.9 L371.2,2415.1 L376.2,2416.2 L377.2,2416.6 L379.2,2417.5 L380.2,2417.7 L381.2,2417.7 L384.2,2416.9 L386.2,2416.6 L387.2,2416.5 L388.2,2416.5 L389.2,2416.7 L391.2,2417.2 L392.2,2417.4 L393.2,2417.5 L396.2,2417.4 L402.2,2417.4 L403.2,2417.3 L404.2,2417.1 L407.2,2415.9 L408.2,2415.6 L409.2,2415.5 L413.2,2415.3 L414.2,2415.4 L415.2,2415.6 L416.2,2416.1 L418.2,2417.5 L419.2,2417.8 L420.2,2417.8 L421.2,2417.4 L423.2,2416.3 L424.2,2415.9 L425.2,2415.7 L426.2,2415.7 L428.2,2415.9 L430.2,2415.8 L432.2,2415.3 L434.2,2414.7 L435.2,2414.5 L436.2,2414.5 L437.2,2414.7 L439.2,2415.3 L440.2,2415.5 L449.2,2415.8 L450.2,2416.0 L456.2,2417.1 L457.2,2417.1 L458.2,2416.8 L460.2,2415.9 L461.2,2415.6 L462.2,2415.5 L467.2,2415.9 L471.2,2416.7 L472.2,2416.7 L475.2,2416.1 L476.2,2416.0 L479.2,2416.4 L480.2,2416.5 L483.2,2416.0 L487.2,2415.8 L488.2,2415.9 L492.2,2416.7 L494.2,2416.9 L495.2,2416.9 L496.2,2416.7 L497.2,2416.3 L499.2,2415.3 L500.2,2415.1 L501.2,2415.2 L504.2,2416.2 L505.2,2416.3 L506.2,2416.3 L509.2,2415.7 L510.2,2415.7 L512.2,2416.0 L513.2,2416.0 L514.2,2415.9 L515.2,2415.5 L517.2,2414.7 L519.2,2414.1 L520.2,2413.9 L521.2,2413.8 L522.7,2413.9 L524.2,2413.8 L525.7,2413.5 L527.2,2413.0 L528.2,2412.5 L529.2,2411.9 L532.7,2409.4 L533.7,2408.6 L534.7,2407.4 L535.7,2406.2 L540.2,2399.7 L540.7,2398.9 L541.2,2397.8 L541.7,2396.4 L542.2,2394.7 L543.2,2390.1 L543.7,2387.1 L544.2,2383.6 L544.7,2378.5 L545.7,2362.2 L547.2,2331.2 L548.7,2292.5 L549.2,2282.0 L549.7,2273.4 L550.2,2266.5 L550.7,2261.6 L551.2,2258.9 L551.7,2258.8 L552.2,2260.5 L553.2,2264.9 L554.2,2270.4 L555.2,2277.3 L559.7,2310.4 L561.7,2323.9 L563.2,2332.9 L564.2,2338.1 L565.7,2344.4 L566.7,2347.8 L568.2,2351.9 L570.7,2357.4 L573.2,2362.4 L575.2,2365.8 L576.2,2367.2 L577.2,2368.3 L580.2,2370.7 L584.7,2374.9 L586.7,2376.6 L588.2,2377.8 L592.2,2380.4 L595.2,2382.8 L596.2,2383.5 L597.2,2384.0 L599.7,2385.1 L601.2,2386.0 L603.2,2387.6 L605.7,2389.9 L607.2,2391.1 L608.2,2391.8 L609.7,2392.4 L612.2,2393.1 L613.2,2393.3 L613.7,2393.3 L616.2,2392.9 L618.2,2392.8 L619.2,2392.6 L620.2,2392.3 L622.2,2391.3 L623.2,2391.0 L623.7,2390.9 L624.2,2390.9 L625.2,2390.9 L628.2,2391.4 L629.2,2391.4 L630.2,2391.2 L633.2,2390.2 L634.2,2390.1 L635.2,2390.1 L639.2,2390.4 L642.2,2390.3 L644.2,2390.2 L645.2,2389.9 L646.2,2389.6 L648.2,2388.7 L650.2,2387.9 L651.2,2387.7 L652.2,2387.6 L653.2,2387.7 L653.7,2387.8 L656.2,2388.7 L657.2,2389.0 L659.2,2389.2 L660.2,2389.4 L663.2,2390.5 L664.2,2390.8 L668.2,2391.4 L672.2,2392.4 L675.2,2392.9 L679.2,2394.2 L681.2,2394.6 L682.7,2394.8 L684.2,2394.9 L688.2,2394.8 L689.2,2394.8 L690.2,2394.9 L691.2,2395.2 L692.2,2395.6 L695.2,2397.5 L696.2,2397.9 L697.2,2398.2 L698.2,2398.1 L700.2,2397.5 L701.2,2397.3 L702.2,2397.3 L705.2,2398.4 L706.2,2398.6 L709.2,2398.5 L710.2,2398.7 L713.2,2399.6 L717.2,2400.6 L718.2,2400.8 L719.2,2400.8 L722.2,2400.4 L723.2,2400.3 L725.2,2400.5 L726.2,2400.6 L727.2,2401.0 L730.2,2402.5 L731.2,2402.9 L732.2,2403.0 L733.2,2403.0 L734.2,2402.9 L738.2,2401.9 L739.2,2401.8 L741.2,2401.8 L742.2,2401.9 L745.2,2402.4 L747.2,2402.7 L748.2,2402.9 L751.2,2403.9 L753.2,2404.5 L758.2,2405.2 L762.2,2406.1 L763.2,2406.2 L766.2,2406.2 L769.2,2406.4 L770.2,2406.3 L772.2,2406.1 L773.2,2406.0 L774.2,2406.1 L777.2,2407.1 L778.2,2407.3 L779.2,2407.4 L780.2,2407.2 L782.2,2406.6 L783.2,2406.4 L784.2,2406.4 L787.2,2407.1 L788.2,2407.3 L791.2,2407.6 L795.2,2407.4 L796.2,2407.5 L799.2,2408.0 L802.2,2408.2 L805.2,2409.0 L806.2,2409.1 L809.2,2408.6 L810.2,2408.6 L811.2,2408.6 L815.2,2409.3 L819.2,2409.7 L822.2,2410.1 L823.2,2410.2 L825.2,2410.1 L827.2,2409.8 L829.2,2409.5 L830.2,2409.4 L831.2,2409.4 L835.2,2410.0 L838.2,2410.7 L839.2,2410.7 L840.2,2410.6 L843.2,2409.9 L844.2,2409.9 L845.2,2410.1 L847.2,2410.7 L848.2,2410.9 L849.2,2411.1 L853.2,2410.9 L854.2,2411.0 L858.2,2411.8 L859.2,2411.9 L861.2,2411.7 L862.2,2411.7 L863.2,2411.9 L865.2,2412.6 L866.2,2412.8 L867.2,2412.8 L869.2,2412.8 L870.2,2412.8 L873.2,2413.4 L874.2,2413.5 L877.2,2412.9 L878.2,2412.8 L883.2,2412.9 L884.2,2413.1 L887.2,2414.0 L888.7,2414.3 L890.2,2414.3 L892.2,2414.2 L894.2,2414.2 L895.2,2414.3 L897.2,2414.8 L898.2,2414.9 L899.2,2414.9 L901.2,2414.5 L902.2,2414.5 L903.2,2414.6 L906.2,2415.6 L907.2,2415.8 L910.2,2416.0 L911.2,2416.0 L912.2,2415.9 L915.2,2415.3 L916.2,2415.3 L917.2,2415.5 L919.2,2416.2 L920.2,2416.4 L923.2,2416.4 L926.2,2416.6 L929.2,2416.4 L930.2,2416.4 L934.2,2416.9 L938.2,2417.8 L940.2,2418.0 L943.2,2417.9 L946.2,2417.5 L947.2,2417.5 L948.2,2417.6 L951.2,2418.2 L952.2,2418.2 L953.2,2418.1 L956.2,2417.7 L957.2,2417.7 L958.2,2417.8 L959.2,2418.0 L962.2,2419.0 L969.2,2420.2 L973.2,2421.5 L974.2,2421.5 L975.2,2421.4 L977.2,2420.9 L978.2,2420.7 L979.2,2420.7 L982.2,2421.1 L983.2,2421.1 L984.2,2420.9 L987.2,2420.0 L988.2,2419.9 L989.2,2420.0 L992.2,2420.7 L996.2,2421.0 L999.2,2421.4 L1000.2,2421.5 L1002.2,2421.4 L1005.2,2420.9 L1006.2,2420.8 L1007.2,2420.9 L1010.2,2421.9 L1010.8,2422.0" fill="none" stroke="#808000" stroke-width="3.7" stroke-linejoin="round" stroke-linecap="round"/>
<path d="M215.2,2582.0 L217.2,2582.4 L218.2,2582.5 L220.2,2582.6 L222.2,2582.4 L224.2,2582.0 L228.2,2580.5 L229.2,2580.4 L230.2,2580.6 L232.2,2581.2 L233.2,2581.5 L234.2,2581.5 L237.2,2581.3 L241.2,2581.5 L242.2,2581.7 L245.2,2582.5 L246.2,2582.6 L247.2,2582.7 L250.2,2582.5 L252.2,2582.5 L255.2,2582.9 L258.2,2583.3 L259.2,2583.4 L262.2,2583.1 L263.2,2583.2 L266.2,2583.5 L267.2,2583.5 L268.2,2583.4 L271.2,2582.5 L272.2,2582.4 L273.2,2582.3 L276.2,2582.8 L277.2,2582.7 L279.2,2582.2 L280.2,2582.1 L281.2,2582.2 L284.2,2583.1 L285.2,2583.2 L290.2,2583.1 L294.2,2582.6 L295.2,2582.6 L296.2,2582.8 L298.2,2583.4 L299.2,2583.6 L300.2,2583.7 L302.2,2583.6 L303.2,2583.4 L304.2,2583.2 L307.2,2581.8 L308.2,2581.5 L309.2,2581.5 L310.2,2581.8 L312.2,2582.8 L313.2,2583.1 L314.2,2583.2 L319.2,2583.2 L320.2,2583.2 L323.2,2582.7 L324.2,2582.6 L325.2,2582.6 L328.2,2583.0 L329.2,2583.0 L330.2,2582.7 L332.2,2582.0 L333.2,2581.7 L334.2,2581.6 L335.2,2581.7 L336.2,2581.8 L340.2,2582.8 L344.2,2583.6 L345.2,2583.6 L346.2,2583.5 L348.2,2583.1 L353.2,2582.5 L354.2,2582.6 L357.2,2583.3 L358.2,2583.3 L361.2,2582.7 L364.2,2582.4 L366.2,2582.4 L369.2,2582.9 L370.2,2583.0 L371.2,2583.0 L372.2,2582.8 L374.2,2582.4 L375.2,2582.4 L376.2,2582.4 L378.2,2582.8 L379.2,2582.9 L380.2,2582.8 L383.2,2582.5 L384.2,2582.6 L387.2,2583.0 L391.2,2583.1 L392.2,2583.2 L395.2,2583.7 L396.2,2583.8 L397.2,2583.8 L399.2,2583.5 L400.2,2583.5 L401.2,2583.6 L403.2,2584.1 L405.2,2584.4 L406.2,2584.4 L409.2,2584.1 L410.2,2584.2 L412.2,2584.6 L413.2,2584.7 L414.2,2584.5 L417.2,2583.2 L418.2,2582.9 L422.2,2582.4 L423.2,2582.3 L425.2,2582.6 L426.2,2582.6 L427.2,2582.5 L429.2,2582.2 L430.2,2582.1 L431.2,2582.2 L433.2,2582.7 L434.2,2582.9 L435.2,2582.8 L437.2,2582.6 L438.2,2582.6 L439.2,2582.7 L440.2,2583.0 L442.2,2583.8 L443.2,2584.1 L444.2,2584.2 L445.2,2584.1 L448.2,2583.4 L449.2,2583.3 L450.2,2583.4 L452.2,2583.7 L453.2,2583.8 L454.2,2583.7 L455.2,2583.3 L457.2,2582.2 L458.2,2581.8 L459.2,2581.7 L460.2,2581.9 L462.2,2583.0 L463.2,2583.4 L466.2,2584.2 L468.2,2584.6 L470.2,2584.9 L471.2,2584.9 L472.2,2584.8 L475.2,2584.5 L478.2,2584.3 L479.2,2584.4 L482.2,2585.1 L483.2,2585.1 L484.2,2584.9 L487.2,2583.7 L488.2,2583.5 L489.2,2583.4 L491.2,2583.4 L494.2,2583.6 L495.2,2583.6 L496.2,2583.4 L498.2,2582.8 L499.2,2582.5 L500.2,2582.5 L502.2,2582.6 L503.2,2582.6 L507.2,2581.5 L510.2,2581.2 L513.2,2580.5 L515.2,2580.2 L516.2,2580.0 L519.2,2579.1 L522.2,2578.5 L526.2,2577.4 L527.7,2577.3 L528.7,2577.1 L530.2,2576.6 L531.2,2576.0 L532.2,2575.4 L535.2,2573.1 L536.2,2572.4 L536.7,2572.0 L537.2,2571.4 L538.2,2569.7 L539.7,2566.4 L541.7,2561.1 L542.2,2559.1 L542.7,2556.5 L543.2,2553.1 L544.2,2544.2 L544.7,2538.5 L545.2,2532.0 L545.7,2524.0 L547.2,2494.3 L548.7,2456.8 L549.2,2446.8 L549.7,2440.1 L550.2,2436.0 L550.7,2434.6 L551.2,2434.6 L551.7,2435.9 L552.2,2437.9 L553.2,2442.5 L553.7,2445.3 L554.7,2452.0 L558.2,2478.6 L559.2,2484.7 L560.7,2492.6 L562.2,2499.5 L563.2,2503.5 L564.2,2507.1 L565.7,2512.1 L567.2,2516.7 L568.2,2519.4 L569.2,2521.7 L569.7,2522.6 L571.2,2524.9 L573.2,2527.6 L584.2,2540.5 L585.2,2541.5 L586.2,2542.4 L587.7,2543.4 L591.2,2545.1 L594.2,2546.9 L595.2,2547.4 L596.2,2547.8 L599.7,2548.7 L601.2,2549.4 L602.2,2550.0 L605.2,2552.4 L606.2,2553.0 L607.7,2553.9 L609.7,2554.6 L611.2,2555.1 L612.7,2555.4 L613.7,2555.4 L616.2,2555.2 L620.2,2555.5 L621.2,2555.4 L624.2,2554.9 L627.2,2554.5 L628.2,2554.1 L630.2,2553.3 L631.2,2552.9 L635.2,2552.1 L639.2,2550.8 L642.2,2550.0 L643.7,2549.7 L645.2,2549.7 L649.2,2550.1 L650.2,2550.3 L653.2,2551.2 L654.2,2551.4 L657.2,2551.6 L660.2,2552.1 L666.2,2552.8 L670.2,2552.8 L674.2,2553.4 L677.2,2553.8 L681.2,2554.8 L682.2,2555.0 L685.2,2555.3 L686.2,2555.4 L687.2,2555.8 L689.2,2556.6 L691.2,2557.1 L693.2,2557.4 L696.2,2557.6 L697.2,2557.9 L700.2,2559.2 L701.2,2559.5 L704.7,2560.4 L707.2,2560.8 L708.2,2560.9 L710.2,2560.8 L712.2,2561.1 L713.2,2561.2 L714.2,2561.0 L717.2,2560.0 L718.2,2559.9 L720.2,2559.8 L722.2,2559.9 L723.2,2560.1 L725.2,2560.6 L726.2,2560.6 L729.2,2559.9 L730.2,2559.7 L731.2,2559.8 L735.2,2560.5 L739.2,2560.6 L742.2,2561.0 L743.2,2561.0 L746.2,2560.9 L747.2,2561.0 L748.2,2561.2 L751.2,2562.0 L752.2,2562.1 L756.2,2562.4 L761.2,2563.4 L764.2,2563.6 L768.2,2564.3 L774.2,2564.8 L777.2,2565.3 L778.2,2565.3 L779.2,2565.1 L782.2,2564.2 L783.2,2563.9 L784.2,2563.9 L785.2,2564.0 L786.2,2564.3 L789.2,2566.0 L790.2,2566.4 L791.2,2566.6 L792.2,2566.5 L794.2,2565.8 L795.2,2565.6 L796.2,2565.7 L799.2,2566.4 L804.2,2567.2 L805.2,2567.2 L806.2,2567.1 L808.2,2566.6 L809.2,2566.4 L813.2,2566.6 L816.2,2566.4 L817.2,2566.6 L818.2,2566.9 L820.2,2567.7 L821.2,2568.0 L822.2,2568.1 L824.2,2568.2 L825.2,2568.4 L826.2,2568.8 L828.2,2569.9 L829.2,2570.3 L830.2,2570.5 L833.2,2570.4 L834.2,2570.5 L837.2,2571.1 L841.2,2571.4 L845.2,2571.3 L847.2,2571.3 L850.2,2571.0 L851.2,2571.1 L852.2,2571.3 L855.2,2572.3 L856.2,2572.5 L857.2,2572.7 L859.2,2572.7 L862.2,2572.4 L868.2,2573.2 L870.2,2573.6 L871.2,2574.0 L873.2,2575.0 L874.2,2575.4 L875.2,2575.5 L876.2,2575.4 L880.2,2574.2 L882.2,2573.8 L883.2,2573.6 L884.2,2573.5 L885.2,2573.6 L888.2,2574.6 L889.2,2574.9 L890.2,2575.0 L894.2,2574.9 L897.2,2575.1 L901.2,2575.2 L902.2,2575.3 L903.2,2575.7 L905.2,2576.7 L906.2,2577.1 L907.2,2577.3 L908.2,2577.4 L911.2,2577.3 L912.2,2577.3 L916.2,2578.0 L917.2,2577.9 L920.2,2577.1 L921.2,2576.9 L923.2,2577.0 L924.2,2576.9 L927.2,2576.5 L929.2,2576.5 L930.2,2576.6 L931.2,2576.8 L932.2,2577.2 L934.2,2578.2 L935.2,2578.4 L936.2,2578.3 L938.2,2577.4 L939.2,2577.1 L940.2,2576.9 L941.2,2577.0 L943.2,2577.2 L947.2,2578.1 L950.2,2578.3 L951.2,2578.5 L952.2,2578.9 L954.2,2580.3 L955.2,2580.7 L956.2,2580.9 L957.2,2580.7 L961.2,2579.9 L963.2,2579.6 L964.2,2579.6 L965.2,2579.7 L968.2,2580.6 L969.2,2580.8 L973.2,2580.7 L976.2,2581.2 L977.2,2581.3 L979.2,2581.1 L982.2,2580.6 L983.2,2580.5 L984.2,2580.6 L987.2,2581.4 L988.2,2581.5 L990.2,2581.2 L994.2,2580.1 L995.2,2579.9 L996.2,2579.9 L997.2,2580.2 L999.2,2581.2 L1000.2,2581.5 L1001.2,2581.4 L1004.2,2580.4 L1005.2,2580.3 L1006.2,2580.3 L1008.2,2580.6 L1009.2,2580.9 L1010.8,2581.4" fill="none" stroke="#008000" stroke-width="3.7" stroke-linejoin="round" stroke-linecap="round"/>
<path d="M215.2,2778.8 L217.2,2780.1 L218.2,2780.7 L219.2,2781.0 L220.2,2781.1 L221.2,2781.1 L223.2,2780.9 L231.2,2779.7 L232.2,2779.7 L236.2,2779.7 L239.2,2779.5 L240.2,2779.5 L241.2,2779.7 L243.2,2780.4 L244.2,2780.7 L245.2,2780.7 L246.2,2780.3 L248.2,2779.4 L249.2,2779.2 L251.2,2779.1 L252.2,2779.2 L253.2,2779.5 L255.2,2780.2 L256.2,2780.4 L257.2,2780.4 L260.2,2779.7 L261.2,2779.8 L262.2,2780.0 L265.2,2781.5 L266.2,2781.8 L267.2,2781.9 L268.2,2781.7 L270.2,2781.1 L271.2,2781.0 L274.2,2781.0 L276.2,2780.8 L277.2,2780.8 L281.2,2781.4 L283.2,2781.6 L284.2,2781.6 L285.2,2781.6 L288.2,2781.0 L289.2,2781.0 L292.2,2781.6 L293.2,2781.6 L294.2,2781.5 L295.2,2781.2 L297.2,2780.5 L299.2,2779.8 L300.2,2779.6 L301.2,2779.5 L302.2,2779.5 L306.2,2780.1 L307.2,2780.1 L310.2,2779.8 L312.2,2779.8 L316.2,2780.3 L317.2,2780.3 L320.2,2779.9 L322.2,2779.8 L324.2,2779.8 L325.2,2780.0 L328.2,2780.8 L329.2,2780.8 L332.2,2780.6 L335.2,2780.6 L336.2,2780.6 L340.2,2779.8 L341.2,2779.7 L342.2,2779.7 L343.2,2779.8 L346.2,2780.5 L347.2,2780.5 L348.2,2780.4 L349.2,2780.3 L353.2,2779.0 L354.2,2778.7 L355.2,2778.6 L356.2,2778.6 L357.2,2778.8 L358.2,2779.1 L360.2,2779.9 L361.2,2780.2 L362.2,2780.4 L363.2,2780.4 L367.2,2780.1 L368.2,2780.1 L370.2,2780.5 L371.2,2780.6 L372.2,2780.6 L375.2,2780.1 L376.2,2780.1 L379.2,2780.6 L380.2,2780.5 L381.2,2780.2 L383.2,2779.2 L384.2,2778.8 L385.2,2778.6 L386.2,2778.6 L387.2,2778.8 L390.2,2779.5 L391.2,2779.6 L392.2,2779.6 L395.2,2779.4 L396.2,2779.5 L397.2,2779.7 L400.2,2781.1 L401.2,2781.3 L402.2,2781.2 L405.2,2779.9 L406.2,2779.8 L407.2,2779.9 L409.2,2780.2 L410.2,2780.2 L411.2,2779.9 L414.2,2778.5 L415.2,2778.3 L416.2,2778.3 L417.2,2778.6 L419.2,2779.3 L421.2,2779.8 L423.2,2779.9 L424.2,2779.9 L425.2,2779.6 L426.2,2779.2 L428.2,2778.1 L429.2,2777.8 L430.2,2778.0 L433.2,2779.4 L434.2,2779.5 L436.2,2779.5 L441.2,2779.0 L444.2,2778.8 L445.2,2778.9 L446.2,2779.2 L448.2,2780.0 L449.2,2780.3 L450.2,2780.4 L451.2,2780.3 L455.2,2779.5 L457.2,2779.3 L460.2,2778.8 L461.2,2778.8 L464.2,2779.0 L467.2,2778.8 L470.2,2778.9 L471.2,2778.8 L474.2,2778.3 L478.2,2778.3 L482.2,2778.0 L486.2,2778.3 L487.2,2778.2 L488.2,2778.0 L490.2,2777.4 L491.2,2777.3 L492.2,2777.2 L495.2,2777.7 L496.2,2777.8 L497.2,2777.8 L498.2,2777.6 L501.2,2777.0 L502.2,2776.8 L505.2,2776.7 L512.2,2775.4 L518.2,2774.6 L520.2,2774.5 L522.2,2774.8 L522.7,2774.7 L523.7,2774.5 L524.7,2774.1 L528.2,2772.2 L532.2,2770.5 L533.2,2769.7 L533.7,2769.1 L535.2,2767.0 L538.7,2761.1 L539.2,2760.2 L539.7,2759.1 L540.2,2757.5 L540.7,2755.4 L541.2,2752.4 L541.7,2748.5 L542.2,2743.5 L542.7,2737.1 L543.2,2729.1 L544.2,2708.6 L548.2,2609.7 L548.7,2600.1 L549.7,2584.4 L550.2,2579.5 L550.7,2578.3 L551.2,2580.9 L551.7,2584.7 L552.7,2594.5 L553.7,2607.2 L555.2,2628.3 L556.2,2641.3 L557.7,2657.8 L559.2,2672.4 L560.7,2684.6 L561.7,2690.9 L562.7,2696.3 L563.7,2701.1 L565.2,2707.0 L565.7,2708.7 L566.7,2711.5 L570.2,2719.1 L571.7,2722.1 L572.7,2723.9 L573.7,2725.5 L574.7,2726.8 L579.2,2731.1 L584.2,2736.3 L587.2,2739.0 L589.2,2740.5 L592.7,2742.6 L595.2,2744.0 L597.7,2745.2 L602.2,2746.8 L605.2,2748.2 L606.2,2748.6 L607.2,2748.8 L608.2,2749.0 L612.2,2749.3 L614.2,2749.7 L615.2,2750.1 L618.2,2751.5 L619.2,2751.7 L620.2,2751.8 L623.2,2751.2 L624.2,2751.2 L627.2,2752.0 L628.2,2752.1 L629.2,2752.0 L630.7,2751.4 L634.7,2749.1 L636.2,2748.5 L637.2,2748.4 L639.7,2748.6 L641.7,2749.0 L644.7,2749.9 L646.2,2749.5 L650.2,2747.6 L652.2,2747.1 L655.2,2746.7 L658.2,2746.1 L659.2,2745.9 L665.2,2745.7 L666.2,2745.9 L669.2,2746.9 L670.2,2747.1 L676.2,2747.7 L677.2,2747.9 L681.2,2749.4 L684.2,2750.2 L689.2,2751.8 L691.2,2752.2 L695.2,2752.7 L698.2,2753.5 L699.2,2753.6 L703.2,2753.6 L707.2,2753.5 L708.2,2753.6 L709.2,2753.8 L712.2,2754.7 L715.2,2755.3 L719.2,2756.8 L725.2,2758.3 L727.2,2758.6 L730.2,2758.9 L732.2,2759.3 L734.2,2759.8 L737.2,2761.0 L738.2,2761.4 L743.2,2762.5 L744.2,2762.7 L745.2,2762.7 L748.2,2762.5 L749.2,2762.7 L750.2,2762.9 L753.2,2764.2 L754.2,2764.5 L755.2,2764.6 L756.2,2764.4 L758.2,2763.9 L759.2,2763.8 L763.2,2764.0 L766.2,2764.4 L767.2,2764.4 L771.2,2764.4 L775.2,2764.1 L776.2,2764.2 L779.2,2765.0 L780.2,2765.1 L784.2,2765.6 L785.2,2765.7 L786.2,2765.7 L789.2,2765.0 L790.2,2765.0 L794.2,2765.8 L798.2,2766.3 L799.2,2766.4 L801.2,2766.3 L804.2,2765.5 L805.2,2765.3 L806.2,2765.3 L807.2,2765.4 L810.2,2766.1 L813.2,2766.6 L814.2,2766.8 L815.2,2767.2 L817.2,2768.0 L818.2,2768.3 L819.2,2768.4 L821.2,2768.3 L822.2,2768.4 L826.2,2768.7 L827.2,2768.9 L830.2,2769.7 L831.2,2769.8 L832.2,2769.7 L834.2,2769.3 L835.2,2769.2 L836.2,2769.2 L837.2,2769.4 L841.2,2770.3 L842.2,2770.3 L844.2,2770.2 L845.2,2770.2 L846.2,2770.3 L849.2,2771.3 L854.2,2772.4 L855.2,2772.6 L856.2,2772.6 L860.2,2772.5 L864.2,2772.5 L867.2,2772.2 L868.2,2772.1 L871.2,2772.4 L872.2,2772.4 L875.2,2772.1 L876.2,2772.2 L877.2,2772.5 L880.2,2773.7 L882.2,2774.3 L883.2,2774.5 L884.2,2774.6 L885.2,2774.6 L887.2,2774.2 L888.2,2774.1 L889.2,2774.1 L890.2,2774.3 L893.2,2774.9 L894.2,2775.0 L896.2,2774.9 L897.2,2774.9 L898.2,2775.1 L900.2,2775.8 L901.2,2775.9 L902.2,2775.8 L905.2,2774.5 L906.2,2774.3 L907.2,2774.3 L910.2,2775.0 L911.2,2775.1 L914.2,2775.2 L917.2,2775.7 L920.2,2775.7 L921.2,2775.9 L923.2,2776.6 L924.2,2776.7 L927.2,2775.8 L928.2,2775.8 L932.2,2776.2 L934.2,2776.2 L937.2,2775.9 L938.2,2776.0 L939.2,2776.1 L941.2,2776.7 L942.2,2776.9 L943.2,2777.0 L946.2,2776.8 L953.2,2777.3 L954.2,2777.4 L958.2,2778.2 L960.2,2778.4 L964.2,2778.5 L965.2,2778.7 L969.2,2780.2 L971.2,2780.6 L972.2,2780.7 L975.2,2780.9 L979.2,2780.8 L980.2,2780.9 L982.2,2781.4 L983.2,2781.5 L984.2,2781.3 L987.2,2780.4 L988.2,2780.3 L991.2,2780.6 L992.2,2780.5 L994.2,2780.0 L995.2,2780.0 L996.2,2780.2 L999.2,2781.4 L1000.2,2781.6 L1001.2,2781.6 L1002.2,2781.4 L1005.2,2780.2 L1006.2,2780.0 L1007.2,2780.1 L1009.2,2780.7 L1010.8,2781.0" fill="none" stroke="#000000" stroke-width="3.7" stroke-linejoin="round" stroke-linecap="round"/>
</g><g clip-path="url(#clipR)">
<path d="M1040.2,2392.3 L1042.2,2392.7 L1044.7,2393.5 L1072.7,2403.8 L1078.7,2405.9 L1084.2,2407.7 L1092.7,2410.2 L1114.2,2416.3 L1141.2,2424.1 L1145.7,2425.3 L1150.2,2426.3 L1155.7,2427.5 L1160.2,2428.3 L1163.2,2428.8 L1165.7,2429.0 L1168.7,2429.1 L1171.7,2429.0 L1174.2,2428.9 L1177.2,2428.6 L1179.7,2428.2 L1182.2,2427.7 L1184.7,2427.1 L1186.7,2426.5 L1189.2,2425.7 L1191.7,2424.7 L1194.7,2423.3 L1198.2,2421.5 L1201.7,2419.6 L1205.7,2417.3 L1210.7,2414.1 L1220.2,2407.4 L1222.7,2405.8 L1225.2,2404.5 L1228.7,2402.9 L1232.2,2401.6 L1235.7,2400.7 L1239.2,2400.1 L1241.2,2399.9 L1243.2,2399.8 L1247.2,2399.9 L1249.2,2400.1 L1251.2,2400.4 L1253.2,2400.9 L1254.7,2401.3 L1257.2,2402.2 L1259.7,2403.2 L1270.7,2408.7 L1277.7,2411.9 L1281.7,2413.5 L1284.7,2414.4 L1286.2,2414.7 L1287.7,2414.9 L1290.7,2415.0 L1294.2,2414.7 L1295.7,2414.4 L1297.2,2414.1 L1299.2,2413.4 L1301.2,2412.3 L1303.2,2410.8 L1305.7,2408.4 L1308.7,2405.2 L1312.2,2401.1 L1322.7,2388.3 L1324.7,2386.1 L1326.7,2384.3 L1327.7,2383.6 L1329.2,2382.7 L1330.2,2382.3 L1331.7,2381.7 L1333.2,2381.4 L1334.7,2381.3 L1336.2,2381.4 L1337.2,2381.5 L1338.7,2381.9 L1339.7,2382.3 L1340.7,2382.9 L1341.7,2383.5 L1343.7,2385.2 L1346.2,2387.8 L1349.2,2391.4 L1352.7,2396.0 L1355.7,2400.3 L1364.7,2413.6 L1368.2,2418.4 L1371.7,2422.8 L1374.7,2426.3 L1378.2,2429.9 L1381.7,2433.0 L1387.7,2438.1 L1400.7,2448.7 L1411.7,2457.3 L1414.7,2459.6 L1417.2,2461.3 L1419.7,2462.9 L1422.7,2464.7 L1425.7,2466.4 L1428.2,2467.6 L1430.7,2468.7 L1433.7,2469.7 L1437.2,2470.7 L1440.7,2471.4 L1444.2,2472.0 L1446.7,2472.2 L1448.2,2472.2 L1449.7,2472.1 L1452.2,2471.7 L1455.2,2470.9 L1460.2,2469.2 L1468.2,2466.2 L1482.7,2460.6 L1487.7,2458.5 L1497.7,2454.0 L1500.7,2452.8 L1503.2,2451.9 L1506.2,2451.1 L1513.2,2449.2 L1521.2,2446.6 L1521.7,2446.5 L1522.2,2446.6 L1522.7,2446.7 L1524.2,2447.4 L1524.7,2447.6 L1525.2,2447.6 L1525.7,2447.3 L1526.2,2446.3 L1527.7,2442.3 L1528.2,2441.6 L1528.7,2441.5 L1529.2,2441.8 L1530.7,2443.4 L1531.2,2443.8 L1532.2,2444.3 L1532.7,2444.5 L1533.2,2444.6 L1534.7,2444.5 L1535.2,2444.2 L1535.7,2443.7 L1536.2,2442.9 L1536.7,2441.6 L1537.2,2439.1 L1537.7,2435.6 L1538.7,2427.8 L1540.2,2414.5 L1540.7,2411.6 L1541.2,2409.8 L1541.7,2409.2 L1542.2,2409.5 L1542.7,2410.7 L1543.2,2412.8 L1543.7,2415.8 L1544.2,2419.6 L1546.2,2438.4 L1548.2,2452.5 L1549.2,2458.7 L1550.2,2464.0 L1551.2,2468.3 L1552.2,2472.2 L1553.7,2477.2 L1554.7,2480.0 L1555.7,2482.1 L1558.2,2486.5 L1559.7,2488.8 L1561.2,2490.5 L1563.2,2492.3 L1565.2,2493.8 L1566.7,2494.7 L1568.2,2495.2 L1569.2,2495.4 L1572.7,2495.8 L1574.2,2496.2 L1575.7,2496.9 L1580.2,2499.4 L1582.2,2500.2 L1583.7,2500.5 L1585.2,2500.7 L1591.2,2500.7 L1592.7,2500.9 L1594.2,2501.1 L1594.7,2501.3 L1595.7,2501.8 L1598.7,2504.0 L1600.2,2504.9 L1601.2,2505.2 L1601.7,2505.2 L1603.7,2504.9 L1605.7,2504.3 L1608.2,2503.5 L1617.2,2500.2 L1622.7,2498.0 L1623.7,2497.4 L1624.7,2496.6 L1625.7,2495.7 L1626.7,2494.5 L1627.7,2493.1 L1628.7,2491.4 L1629.7,2488.9 L1631.7,2482.9 L1632.7,2480.5 L1633.2,2479.4 L1633.7,2478.5 L1634.2,2478.0 L1634.7,2477.9 L1635.2,2478.4 L1635.7,2479.2 L1636.2,2480.3 L1637.2,2482.7 L1638.7,2487.5 L1639.2,2488.6 L1639.7,2489.1 L1641.2,2490.1 L1642.7,2491.0 L1649.7,2494.6 L1650.7,2495.4 L1653.2,2498.6 L1654.2,2499.5 L1654.7,2499.8 L1655.7,2500.0 L1656.7,2500.1 L1657.2,2500.0 L1657.7,2499.6 L1658.2,2498.9 L1658.7,2497.9 L1659.2,2496.8 L1659.7,2495.4 L1660.2,2493.7 L1660.7,2491.4 L1661.7,2485.6 L1663.2,2474.7 L1664.7,2459.8 L1665.2,2455.2 L1665.7,2451.5 L1666.2,2448.7 L1666.7,2446.8 L1667.2,2445.9 L1667.7,2446.1 L1668.2,2447.0 L1668.7,2448.6 L1669.2,2451.0 L1669.7,2454.1 L1670.2,2458.0 L1672.7,2480.3 L1674.7,2495.4 L1675.7,2501.2 L1676.2,2503.3 L1676.7,2505.1 L1677.7,2507.9 L1678.2,2508.9 L1678.7,2509.7 L1679.2,2510.3 L1679.7,2510.8 L1682.7,2512.6 L1684.2,2513.4 L1685.2,2513.8 L1686.7,2514.3 L1687.7,2514.4 L1693.2,2514.5 L1695.7,2514.2 L1697.2,2513.9 L1698.7,2513.4 L1700.2,2512.6 L1702.2,2511.4 L1706.7,2508.3 L1712.7,2503.6 L1714.2,2502.7 L1717.7,2501.2 L1718.7,2500.7 L1719.7,2500.0 L1721.2,2498.8 L1722.2,2498.0 L1724.2,2495.8 L1725.7,2493.8 L1734.2,2481.1 L1739.2,2473.6 L1740.7,2471.1 L1742.7,2467.1 L1745.7,2460.3 L1747.7,2455.4 L1750.2,2448.7 L1753.2,2440.0 L1754.7,2435.3 L1755.7,2431.9 L1762.2,2406.1 L1764.2,2395.8 L1768.2,2376.2 L1772.7,2350.6 L1777.2,2321.4 L1777.7,2317.9 L1780.7,2293.9 L1782.2,2281.1 L1783.2,2274.1 L1783.7,2271.9 L1783.9,2271.5" fill="none" stroke="#a0a0a0" stroke-width="4.2" stroke-linejoin="round" stroke-linecap="round"/>
<path d="M1040.2,2558.2 L1042.2,2558.6 L1044.7,2559.4 L1054.7,2563.0 L1063.2,2566.3 L1073.2,2570.6 L1076.7,2572.1 L1080.7,2573.5 L1085.2,2574.9 L1090.2,2576.2 L1103.2,2579.3 L1110.2,2581.1 L1135.2,2587.8 L1151.7,2592.5 L1156.7,2593.8 L1160.7,2594.6 L1164.7,2595.1 L1169.2,2595.4 L1173.2,2595.4 L1175.7,2595.3 L1177.7,2595.1 L1179.7,2594.8 L1182.2,2594.3 L1184.7,2593.7 L1187.2,2592.9 L1192.2,2591.0 L1195.2,2589.6 L1198.2,2588.2 L1201.2,2586.6 L1204.2,2584.9 L1208.7,2582.0 L1215.7,2577.1 L1218.2,2575.4 L1220.7,2573.9 L1223.7,2572.3 L1227.7,2570.5 L1231.7,2569.1 L1235.7,2568.0 L1239.2,2567.4 L1241.2,2567.2 L1243.2,2567.2 L1245.2,2567.2 L1247.2,2567.4 L1249.2,2567.6 L1251.7,2568.1 L1255.7,2569.1 L1258.2,2569.9 L1261.2,2571.1 L1273.2,2576.6 L1278.7,2579.0 L1282.2,2580.3 L1285.2,2581.2 L1286.7,2581.5 L1288.2,2581.7 L1291.2,2581.8 L1294.2,2581.6 L1295.7,2581.4 L1297.2,2581.1 L1299.2,2580.5 L1301.2,2579.6 L1303.2,2578.3 L1305.2,2576.7 L1306.7,2575.3 L1308.2,2573.7 L1315.2,2565.4 L1318.7,2561.5 L1321.2,2559.0 L1323.2,2557.1 L1325.2,2555.4 L1326.7,2554.3 L1328.2,2553.3 L1329.7,2552.5 L1331.2,2551.9 L1332.7,2551.4 L1334.2,2551.2 L1336.2,2551.0 L1338.2,2551.0 L1339.7,2551.2 L1340.7,2551.4 L1341.7,2551.8 L1342.7,2552.3 L1343.7,2552.9 L1344.7,2553.6 L1345.7,2554.5 L1346.7,2555.5 L1348.2,2557.2 L1350.7,2560.4 L1353.7,2564.5 L1357.7,2570.3 L1366.7,2583.8 L1369.7,2588.0 L1372.7,2592.0 L1375.7,2595.7 L1378.2,2598.5 L1380.7,2600.9 L1384.2,2603.9 L1410.7,2625.1 L1414.7,2628.1 L1418.7,2630.5 L1422.7,2632.6 L1427.7,2635.0 L1431.7,2636.7 L1435.2,2637.9 L1439.2,2639.1 L1442.7,2639.9 L1445.7,2640.3 L1448.7,2640.5 L1450.7,2640.4 L1452.2,2640.2 L1453.7,2639.9 L1455.7,2639.4 L1458.7,2638.4 L1465.2,2635.8 L1468.7,2634.5 L1472.2,2633.4 L1479.7,2631.3 L1482.7,2630.3 L1484.7,2629.6 L1487.2,2628.5 L1495.2,2624.5 L1497.7,2623.4 L1499.2,2623.1 L1500.7,2623.0 L1505.7,2623.2 L1507.2,2623.1 L1508.7,2622.9 L1510.2,2622.4 L1511.2,2621.9 L1511.7,2621.6 L1512.7,2620.6 L1513.7,2619.5 L1516.7,2615.5 L1520.2,2609.9 L1520.7,2609.2 L1521.2,2608.9 L1521.7,2609.1 L1522.2,2609.8 L1523.7,2612.9 L1524.2,2613.8 L1524.7,2614.4 L1525.2,2614.6 L1525.7,2614.2 L1526.2,2613.3 L1526.7,2611.9 L1528.2,2607.2 L1528.7,2606.0 L1529.2,2605.2 L1529.7,2605.0 L1530.2,2605.2 L1530.7,2605.6 L1531.2,2606.1 L1533.2,2609.1 L1533.7,2609.7 L1534.2,2610.1 L1535.2,2610.6 L1535.7,2610.6 L1536.2,2610.1 L1536.7,2609.0 L1537.2,2606.9 L1537.7,2603.5 L1538.2,2598.0 L1539.2,2584.5 L1540.7,2567.7 L1541.2,2563.1 L1541.7,2559.6 L1542.2,2558.1 L1542.7,2560.5 L1543.2,2565.6 L1544.2,2579.1 L1545.7,2602.5 L1546.7,2614.3 L1547.7,2624.4 L1548.2,2628.6 L1549.2,2635.2 L1550.7,2643.3 L1551.7,2647.3 L1552.2,2648.7 L1552.7,2649.8 L1554.2,2652.5 L1556.2,2655.8 L1557.7,2657.8 L1559.2,2659.3 L1560.7,2660.3 L1565.2,2663.0 L1567.2,2664.3 L1569.7,2666.1 L1575.2,2670.3 L1576.7,2671.3 L1577.7,2671.9 L1578.7,2672.3 L1580.2,2672.7 L1581.2,2672.8 L1581.7,2672.7 L1582.2,2672.5 L1583.2,2671.7 L1584.2,2670.5 L1585.2,2669.1 L1586.2,2667.4 L1586.7,2666.4 L1588.7,2660.8 L1589.7,2658.3 L1590.2,2657.4 L1590.7,2656.6 L1591.2,2656.2 L1591.7,2655.9 L1592.2,2656.0 L1592.7,2656.3 L1593.7,2657.5 L1594.7,2659.0 L1595.7,2660.9 L1596.7,2663.1 L1598.7,2668.8 L1599.7,2671.1 L1600.7,2672.6 L1602.2,2674.3 L1603.2,2675.1 L1604.7,2676.0 L1606.2,2676.6 L1607.2,2676.8 L1608.2,2676.9 L1612.2,2676.8 L1616.7,2676.5 L1619.2,2676.2 L1620.7,2675.8 L1623.2,2675.1 L1626.2,2673.9 L1626.7,2673.6 L1627.2,2673.1 L1627.7,2672.3 L1628.2,2671.2 L1628.7,2669.7 L1629.2,2667.8 L1630.2,2662.9 L1630.7,2659.6 L1631.2,2655.1 L1632.7,2639.3 L1633.7,2630.3 L1634.2,2626.5 L1634.7,2624.4 L1635.2,2624.9 L1635.7,2627.4 L1636.2,2631.3 L1637.2,2640.2 L1638.7,2655.3 L1639.2,2659.6 L1639.7,2662.9 L1640.2,2665.5 L1640.7,2667.5 L1641.2,2669.2 L1641.7,2670.4 L1642.2,2671.3 L1642.7,2671.9 L1645.2,2674.3 L1647.2,2675.9 L1649.2,2677.3 L1651.7,2678.5 L1653.7,2679.3 L1654.2,2679.4 L1654.7,2679.3 L1655.2,2679.0 L1656.2,2678.0 L1657.7,2675.9 L1658.2,2674.9 L1658.7,2673.5 L1659.2,2671.6 L1659.7,2669.2 L1660.7,2662.5 L1661.2,2658.2 L1665.7,2612.2 L1666.2,2608.2 L1666.7,2605.3 L1667.2,2603.9 L1667.7,2604.6 L1668.2,2607.4 L1668.7,2611.6 L1672.2,2650.6 L1673.2,2660.8 L1673.7,2664.9 L1674.7,2671.5 L1675.2,2674.2 L1675.7,2676.4 L1676.2,2678.1 L1676.7,2679.5 L1677.2,2680.5 L1678.7,2683.2 L1679.7,2684.5 L1680.2,2685.0 L1680.7,2685.3 L1681.2,2685.5 L1682.7,2685.7 L1686.7,2686.0 L1689.2,2686.0 L1691.7,2685.8 L1694.7,2685.2 L1698.2,2684.2 L1700.7,2683.2 L1703.2,2682.0 L1704.2,2681.2 L1705.2,2680.2 L1709.2,2675.2 L1710.2,2674.3 L1711.2,2673.5 L1712.2,2673.1 L1713.2,2673.0 L1716.7,2673.1 L1718.2,2672.9 L1719.2,2672.5 L1720.7,2671.6 L1722.2,2670.7 L1723.2,2669.9 L1724.7,2668.6 L1725.7,2667.5 L1728.2,2664.3 L1734.7,2655.7 L1739.7,2650.0 L1741.2,2648.2 L1742.2,2646.8 L1743.2,2645.2 L1744.7,2641.9 L1746.7,2636.4 L1750.7,2624.2 L1754.2,2613.0 L1757.7,2601.4 L1760.2,2592.5 L1762.2,2584.9 L1763.2,2580.8 L1764.7,2573.9 L1766.7,2563.5 L1769.2,2549.6 L1771.2,2538.1 L1773.2,2525.8 L1775.2,2512.5 L1777.7,2494.9 L1781.7,2464.8 L1782.7,2458.1 L1784.0,2450.3" fill="none" stroke="#808000" stroke-width="4.2" stroke-linejoin="round" stroke-linecap="round"/>
<path d="M1040.2,2724.7 L1043.2,2725.1 L1046.7,2725.8 L1051.2,2726.8 L1055.7,2728.0 L1061.2,2729.7 L1072.2,2733.9 L1075.2,2734.8 L1078.7,2735.8 L1086.2,2737.5 L1097.2,2739.8 L1105.2,2741.5 L1121.2,2744.6 L1125.2,2745.5 L1128.2,2746.2 L1130.7,2746.9 L1133.7,2748.0 L1143.2,2751.9 L1147.7,2753.6 L1153.7,2755.5 L1160.2,2757.4 L1164.7,2758.4 L1168.2,2759.0 L1171.7,2759.3 L1175.2,2759.3 L1179.7,2758.9 L1182.2,2758.5 L1184.7,2758.1 L1186.7,2757.6 L1188.7,2756.9 L1190.7,2756.2 L1192.2,2755.5 L1194.7,2754.2 L1197.2,2752.8 L1213.7,2741.8 L1221.2,2737.2 L1226.2,2734.2 L1229.2,2732.7 L1232.2,2731.5 L1235.2,2730.7 L1238.2,2730.2 L1240.2,2730.0 L1242.2,2730.0 L1244.7,2730.1 L1246.7,2730.2 L1248.7,2730.5 L1250.7,2730.9 L1254.7,2732.0 L1259.7,2733.7 L1265.2,2735.9 L1270.2,2738.2 L1279.7,2743.0 L1282.7,2744.2 L1285.2,2744.9 L1286.7,2745.3 L1288.7,2745.6 L1292.2,2745.9 L1295.2,2745.8 L1296.7,2745.6 L1298.2,2745.2 L1299.7,2744.7 L1300.7,2744.3 L1302.7,2743.1 L1305.2,2741.3 L1307.7,2739.0 L1310.7,2735.9 L1313.7,2732.6 L1321.2,2723.3 L1323.2,2721.0 L1325.2,2719.0 L1327.2,2717.3 L1328.7,2716.3 L1330.2,2715.5 L1331.7,2714.8 L1333.2,2714.4 L1334.7,2714.1 L1336.2,2713.9 L1337.7,2713.9 L1339.2,2714.1 L1340.7,2714.6 L1341.7,2715.0 L1343.7,2716.3 L1345.7,2718.0 L1348.2,2720.6 L1350.2,2723.0 L1352.7,2726.4 L1360.7,2738.2 L1364.7,2743.8 L1369.2,2749.9 L1373.2,2755.0 L1377.7,2760.3 L1382.2,2765.2 L1386.7,2769.6 L1390.7,2773.1 L1393.2,2775.1 L1400.7,2780.8 L1409.7,2788.2 L1413.7,2791.3 L1416.2,2793.1 L1419.2,2795.1 L1422.2,2796.9 L1425.2,2798.6 L1428.7,2800.4 L1431.7,2801.6 L1434.7,2802.7 L1438.2,2803.7 L1441.7,2804.5 L1444.7,2805.0 L1447.7,2805.2 L1450.2,2805.2 L1452.7,2804.9 L1455.2,2804.3 L1457.7,2803.4 L1463.7,2800.7 L1466.7,2799.5 L1469.7,2798.6 L1476.2,2797.1 L1478.2,2796.5 L1480.2,2795.7 L1484.2,2793.9 L1495.2,2788.0 L1507.2,2782.0 L1509.2,2780.9 L1510.7,2779.7 L1511.7,2778.8 L1513.2,2777.0 L1513.7,2776.0 L1514.2,2774.6 L1514.7,2772.8 L1516.2,2766.5 L1517.2,2762.9 L1518.2,2760.2 L1519.2,2758.0 L1520.2,2756.4 L1520.7,2755.8 L1521.2,2755.8 L1521.7,2756.7 L1522.2,2758.2 L1523.7,2763.5 L1524.2,2764.6 L1524.7,2764.9 L1525.2,2764.2 L1525.7,2762.7 L1527.2,2756.5 L1527.7,2754.8 L1528.2,2753.9 L1528.7,2753.8 L1529.2,2754.0 L1529.7,2754.4 L1530.2,2755.0 L1532.7,2758.2 L1534.2,2759.5 L1536.2,2759.5 L1536.7,2758.7 L1537.2,2756.6 L1537.7,2753.1 L1538.2,2745.7 L1539.2,2725.6 L1540.7,2702.0 L1541.7,2689.9 L1542.2,2687.4 L1542.7,2689.7 L1543.2,2696.8 L1543.7,2706.3 L1544.2,2717.1 L1545.7,2757.0 L1546.2,2765.9 L1546.7,2773.3 L1547.2,2779.3 L1547.7,2783.6 L1548.2,2786.1 L1548.7,2786.8 L1549.2,2786.4 L1550.2,2784.4 L1551.2,2784.4 L1551.7,2785.6 L1554.2,2799.4 L1556.2,2808.3 L1557.7,2814.3 L1558.7,2817.5 L1559.7,2820.0 L1560.7,2822.0 L1561.2,2822.8 L1562.2,2824.2 L1563.2,2825.1 L1564.2,2825.7 L1565.2,2825.9 L1567.2,2825.8 L1567.7,2825.9 L1568.2,2826.1 L1568.7,2826.5 L1569.7,2827.6 L1573.7,2832.5 L1575.7,2834.5 L1577.2,2835.7 L1579.2,2837.0 L1579.7,2837.3 L1580.2,2837.3 L1580.7,2837.2 L1581.2,2836.9 L1581.7,2836.4 L1582.2,2835.7 L1583.2,2834.1 L1584.2,2831.8 L1585.2,2828.4 L1586.7,2822.1 L1587.7,2818.4 L1588.2,2817.0 L1589.2,2814.5 L1590.2,2812.7 L1590.7,2812.1 L1591.2,2811.8 L1591.7,2811.8 L1592.2,2812.1 L1592.7,2812.6 L1593.2,2813.3 L1594.2,2815.2 L1595.2,2817.8 L1596.2,2821.2 L1598.2,2829.1 L1598.7,2830.6 L1599.2,2831.8 L1600.7,2834.7 L1602.2,2837.1 L1603.7,2839.0 L1604.7,2839.9 L1605.7,2840.5 L1607.2,2840.9 L1608.7,2841.1 L1612.2,2841.3 L1613.2,2841.4 L1614.2,2841.7 L1615.7,2842.3 L1619.7,2844.4 L1620.7,2844.8 L1621.2,2844.9 L1622.2,2844.7 L1623.2,2844.2 L1624.7,2843.1 L1627.2,2841.0 L1627.7,2840.2 L1628.2,2838.8 L1628.7,2836.7 L1629.2,2833.5 L1629.7,2828.9 L1630.2,2822.9 L1630.7,2815.5 L1632.7,2781.8 L1633.7,2763.2 L1634.2,2755.5 L1634.7,2751.2 L1635.2,2752.1 L1635.7,2758.4 L1636.7,2777.6 L1639.2,2821.4 L1639.7,2827.8 L1640.2,2832.4 L1640.7,2835.5 L1641.2,2837.4 L1641.7,2838.5 L1645.2,2843.3 L1646.2,2844.5 L1647.2,2845.5 L1648.2,2846.2 L1649.2,2846.8 L1650.2,2847.3 L1651.7,2847.8 L1652.2,2847.9 L1652.7,2847.8 L1653.2,2847.6 L1654.2,2846.8 L1655.2,2845.7 L1656.7,2843.7 L1657.2,2842.8 L1657.7,2841.4 L1658.2,2839.5 L1659.2,2834.3 L1660.2,2827.1 L1660.7,2822.7 L1661.7,2810.5 L1662.7,2794.9 L1665.2,2746.7 L1666.2,2729.3 L1666.7,2722.7 L1667.2,2718.9 L1667.7,2718.8 L1668.2,2722.0 L1668.7,2727.6 L1669.2,2735.0 L1672.2,2788.1 L1674.2,2820.6 L1674.7,2827.2 L1675.2,2832.7 L1675.7,2836.8 L1676.2,2840.1 L1676.7,2842.6 L1677.2,2844.5 L1677.7,2845.8 L1678.2,2846.8 L1678.7,2847.5 L1681.2,2850.1 L1682.7,2851.5 L1684.2,2852.6 L1685.2,2852.9 L1685.7,2853.0 L1689.2,2852.9 L1691.7,2852.7 L1693.7,2852.3 L1695.2,2851.9 L1696.7,2851.2 L1698.7,2850.0 L1701.7,2847.9 L1705.2,2845.1 L1706.7,2843.8 L1709.2,2841.1 L1710.2,2840.3 L1710.7,2840.1 L1711.7,2839.9 L1712.7,2840.0 L1713.7,2840.3 L1716.2,2841.4 L1717.2,2841.7 L1718.2,2841.9 L1718.7,2841.9 L1719.7,2841.6 L1720.7,2841.2 L1722.2,2840.4 L1723.7,2839.4 L1725.7,2837.8 L1727.7,2835.7 L1729.2,2833.8 L1732.7,2829.0 L1734.2,2827.1 L1735.7,2825.7 L1738.7,2823.5 L1740.2,2822.0 L1741.2,2820.6 L1741.7,2819.8 L1742.7,2817.8 L1744.2,2814.5 L1753.7,2791.0 L1756.2,2784.7 L1758.2,2779.2 L1760.7,2771.7 L1763.7,2761.7 L1765.2,2756.0 L1766.7,2749.7 L1770.2,2733.4 L1772.2,2723.6 L1774.2,2712.8 L1775.7,2703.8 L1777.2,2693.5 L1778.7,2682.0 L1780.2,2669.7 L1782.7,2647.9 L1784.1,2637.5" fill="none" stroke="#008000" stroke-width="4.2" stroke-linejoin="round" stroke-linecap="round"/>
<path d="M1040.2,2927.0 L1042.2,2927.5 L1044.2,2928.1 L1054.2,2931.4 L1061.7,2933.8 L1101.2,2945.6 L1121.2,2951.5 L1141.2,2957.1 L1145.2,2958.1 L1149.2,2959.0 L1153.2,2959.7 L1157.7,2960.5 L1160.7,2960.9 L1163.2,2961.1 L1165.7,2961.2 L1168.7,2961.2 L1174.2,2960.8 L1181.2,2960.0 L1185.2,2959.2 L1187.2,2958.6 L1188.7,2958.0 L1191.7,2956.6 L1194.7,2954.8 L1217.7,2939.6 L1221.2,2937.4 L1223.7,2936.0 L1226.7,2934.7 L1229.7,2933.8 L1234.2,2932.9 L1239.2,2932.2 L1242.7,2932.0 L1245.7,2932.1 L1247.7,2932.3 L1249.2,2932.6 L1252.2,2933.4 L1254.7,2934.3 L1257.7,2935.7 L1260.7,2937.3 L1268.2,2941.8 L1272.2,2944.1 L1276.7,2946.4 L1280.2,2948.0 L1281.7,2948.5 L1283.2,2948.9 L1285.7,2949.2 L1287.2,2949.2 L1288.7,2949.1 L1290.2,2948.9 L1291.2,2948.7 L1293.2,2948.0 L1295.7,2946.7 L1298.2,2945.0 L1300.7,2942.9 L1302.7,2941.0 L1304.7,2938.8 L1311.7,2930.5 L1314.7,2927.2 L1316.7,2925.2 L1318.7,2923.4 L1320.7,2921.7 L1322.2,2920.5 L1323.7,2919.4 L1325.2,2918.5 L1326.7,2917.8 L1327.7,2917.5 L1328.7,2917.3 L1330.2,2917.1 L1331.7,2917.1 L1333.2,2917.3 L1334.7,2917.7 L1335.7,2918.1 L1337.7,2919.2 L1338.7,2919.8 L1340.2,2921.0 L1342.7,2923.4 L1345.7,2926.6 L1349.7,2931.3 L1353.2,2935.7 L1361.2,2946.2 L1363.7,2949.2 L1366.2,2952.1 L1371.2,2957.2 L1377.7,2963.6 L1388.2,2973.6 L1395.2,2980.1 L1399.7,2984.0 L1404.2,2987.7 L1408.2,2990.8 L1411.7,2993.2 L1416.2,2996.0 L1420.7,2998.6 L1424.7,3000.6 L1428.7,3002.4 L1432.2,3003.7 L1435.2,3004.7 L1438.2,3005.5 L1441.2,3006.1 L1444.2,3006.4 L1446.7,3006.5 L1449.2,3006.5 L1452.2,3006.2 L1454.7,3005.9 L1456.7,3005.6 L1461.2,3004.4 L1488.2,2996.0 L1492.2,2994.9 L1495.2,2994.1 L1497.2,2993.7 L1499.7,2993.4 L1502.7,2993.1 L1506.2,2992.9 L1508.2,2992.8 L1510.2,2992.9 L1511.7,2993.0 L1513.2,2993.3 L1515.2,2993.8 L1516.7,2994.4 L1518.2,2995.2 L1520.2,2996.4 L1522.2,2997.9 L1524.2,2999.5 L1530.7,3005.1 L1537.7,3011.2 L1541.2,3014.5 L1544.2,3017.6 L1550.2,3024.8 L1552.7,3027.5 L1556.2,3030.9 L1560.7,3034.8 L1564.7,3037.9 L1568.2,3040.3 L1571.7,3042.3 L1575.2,3043.8 L1579.2,3045.2 L1583.7,3046.3 L1589.7,3047.6 L1594.7,3048.3 L1598.2,3048.6 L1601.7,3048.8 L1614.2,3048.9 L1619.7,3049.1 L1625.7,3049.5 L1630.2,3050.2 L1632.2,3050.6 L1634.2,3051.2 L1636.2,3051.9 L1640.7,3053.8 L1644.2,3054.9 L1647.7,3055.7 L1657.2,3057.7 L1666.2,3060.0 L1669.7,3060.7 L1672.7,3061.0 L1675.7,3061.0 L1679.7,3060.7 L1685.2,3060.1 L1690.7,3059.2 L1694.7,3058.4 L1698.2,3057.4 L1701.2,3056.2 L1703.2,3055.2 L1705.7,3053.8 L1711.7,3050.3 L1716.7,3046.9 L1720.7,3043.9 L1723.7,3041.2 L1727.2,3037.5 L1732.2,3031.7 L1736.2,3026.6 L1738.7,3022.8 L1742.2,3016.9 L1744.2,3013.1 L1745.7,3009.7 L1747.7,3004.7 L1751.7,2993.7 L1753.2,2989.3 L1754.7,2984.4 L1758.2,2972.2 L1760.7,2962.9 L1763.2,2952.7 L1765.2,2943.7 L1767.2,2933.4 L1769.2,2923.7 L1773.2,2901.3 L1777.2,2873.9 L1781.7,2837.4 L1782.2,2833.9 L1782.7,2831.2 L1783.5,2828.0" fill="none" stroke="#000000" stroke-width="4.2" stroke-linejoin="round" stroke-linecap="round"/>
</g>
<line x1="552.5" y1="2070.1" x2="552.5" y2="3163.0" stroke="#000" stroke-width="3.1" stroke-linecap="butt" stroke-dasharray="8.8 7.43"/>
<line x1="577.5" y1="2075.1" x2="577.5" y2="3154.0" stroke="#000" stroke-width="3.1" stroke-linecap="butt" stroke-dasharray="8.8 7.43"/>
<line x1="709.5" y1="2138.2" x2="709.5" y2="3149.0" stroke="#000" stroke-width="3.1" stroke-linecap="butt" stroke-dasharray="8.8 7.43"/>
<line x1="1597.0" y1="2434.4" x2="1597.0" y2="3142.0" stroke="#000" stroke-width="1.9" stroke-linecap="butt" stroke-dasharray="8.8 7.43"/>
<path d="M1010.0,1862.0 H149.0 V3151.0 H1010.0" fill="none" stroke="#000" stroke-width="4.2" stroke-linejoin="miter"/>
<path d="M1040.0,1862.0 H1901.0 V3151.0 H1040.0" fill="none" stroke="#000" stroke-width="4.2" stroke-linejoin="miter"/>
<line x1="995.0" y1="1888.0" x2="1025.0" y2="1836.0" stroke="#000" stroke-width="5.0" stroke-linecap="butt"/>
<line x1="1025.0" y1="1888.0" x2="1055.0" y2="1836.0" stroke="#000" stroke-width="5.0" stroke-linecap="butt"/>
<line x1="995.0" y1="3177.0" x2="1025.0" y2="3125.0" stroke="#000" stroke-width="5.0" stroke-linecap="butt"/>
<line x1="1025.0" y1="3177.0" x2="1055.0" y2="3125.0" stroke="#000" stroke-width="5.0" stroke-linecap="butt"/>
<line x1="215.0" y1="3151.0" x2="215.0" y2="3178.0" stroke="#000" stroke-width="4.2" stroke-linecap="butt"/>
<line x1="546.0" y1="3151.0" x2="546.0" y2="3178.0" stroke="#000" stroke-width="4.2" stroke-linecap="butt"/>
<line x1="877.0" y1="3151.0" x2="877.0" y2="3178.0" stroke="#000" stroke-width="4.2" stroke-linecap="butt"/>
<line x1="1234.8" y1="3151.0" x2="1234.8" y2="3178.0" stroke="#000" stroke-width="4.2" stroke-linecap="butt"/>
<line x1="1431.0" y1="3151.0" x2="1431.0" y2="3178.0" stroke="#000" stroke-width="4.2" stroke-linecap="butt"/>
<line x1="1626.8" y1="3151.0" x2="1626.8" y2="3178.0" stroke="#000" stroke-width="4.2" stroke-linecap="butt"/>
<line x1="1822.6" y1="3151.0" x2="1822.6" y2="3178.0" stroke="#000" stroke-width="4.2" stroke-linecap="butt"/>
<line x1="380.9" y1="3151.0" x2="380.9" y2="3164.6" stroke="#000" stroke-width="4.2" stroke-linecap="butt"/>
<line x1="711.8" y1="3151.0" x2="711.8" y2="3164.6" stroke="#000" stroke-width="4.2" stroke-linecap="butt"/>
<line x1="1137.6" y1="3151.0" x2="1137.6" y2="3164.6" stroke="#000" stroke-width="4.2" stroke-linecap="butt"/>
<line x1="1333.0" y1="3151.0" x2="1333.0" y2="3164.6" stroke="#000" stroke-width="4.2" stroke-linecap="butt"/>
<line x1="1528.9" y1="3151.0" x2="1528.9" y2="3164.6" stroke="#000" stroke-width="4.2" stroke-linecap="butt"/>
<line x1="1724.9" y1="3151.0" x2="1724.9" y2="3164.6" stroke="#000" stroke-width="4.2" stroke-linecap="butt"/>
<text transform="translate(215.3,3228.5) scale(0.990,1.030)" font-size="44" text-anchor="middle">4000</text>
<text transform="translate(546.3,3228.5) scale(0.990,1.030)" font-size="44" text-anchor="middle">3750</text>
<text transform="translate(877.3,3228.5) scale(0.990,1.030)" font-size="44" text-anchor="middle">3500</text>
<text transform="translate(1235.1,3228.5) scale(0.990,1.030)" font-size="44" text-anchor="middle">2000</text>
<text transform="translate(1431.3,3228.5) scale(0.990,1.030)" font-size="44" text-anchor="middle">1750</text>
<text transform="translate(1627.1,3228.5) scale(0.990,1.030)" font-size="44" text-anchor="middle">1500</text>
<text transform="translate(1822.9,3228.5) scale(0.990,1.030)" font-size="44" text-anchor="middle">1250</text>
<text transform="translate(836.2,3308.8) scale(1,1.03)" font-size="50">Wavelength (cm<tspan x="364.6" y="-19" font-size="34">−1</tspan><tspan x="404.3" y="0">)</tspan></text>
<text transform="translate(103.8,2426.2) rotate(-90) scale(1,1.03)" font-size="50" text-anchor="middle">Absorbance (arb. u.)</text>
<text transform="translate(177.3,1946.9) scale(1.001,1.050)" font-size="56" font-weight="bold">FeM36-SiAl</text>
<text transform="translate(1788.4,1946.5) scale(1.004,1.030)" font-size="62">(b)</text>
<text transform="translate(487.0,2054.2) scale(0.994,1.030)" font-size="50">Si-OH</text>
<text transform="translate(637.6,2113.0) scale(1.011,1.030)" font-size="50">Si-(OH)-Al</text>
<text transform="translate(219.0,2204.9) scale(0.991,1.005)" font-size="50">350 °C</text>
<text transform="translate(218.0,2377.4) scale(1.010,1.005)" font-size="50">250 °C</text>
<text transform="translate(211.9,2542.3) scale(0.987,1.005)" font-size="50">150 °C</text>
<text transform="translate(216.8,2745.6) scale(1.013,1.005)" font-size="50">degassed</text>
<text transform="translate(761.0,2685.4) scale(1.008,1.005)" font-size="44">3582</text>
<text transform="translate(1422.3,2322.8) scale(1.029,1.030)" font-size="50">B</text>
<text transform="translate(1524.0,2377.7) scale(0.995,1.030)" font-size="50">L</text>
<text transform="translate(1586.3,2418.3) scale(0.985,1.030)" font-size="50">B</text>
<text transform="translate(1588.6,2298.9) scale(1.006,1.030)" font-size="50">L+B</text>
<text transform="translate(1663.1,2417.8) scale(0.995,1.030)" font-size="50">L</text>
<line x1="784.9" y1="2697.6" x2="769.5" y2="2725.1" stroke="#000" stroke-width="2.5" stroke-linecap="butt"/>
<polygon points="750.7,2756.1 761.5,2720.2 777.4,2729.9" fill="#000"/>
<line x1="1458.2" y1="2341.8" x2="1499.3" y2="2404.1" stroke="#000" stroke-width="2.5" stroke-linecap="butt"/>
<polygon points="1519.3,2433.4 1491.6,2409.2 1507.1,2399.0" fill="#000"/>
<line x1="1633.2" y1="2318.3" x2="1633.2" y2="2424.7" stroke="#000" stroke-width="2.5" stroke-linecap="butt"/>
<polygon points="1633.2,2460.6 1623.7,2424.7 1642.7,2424.7" fill="#000"/>
</g>
</svg></body></html>
